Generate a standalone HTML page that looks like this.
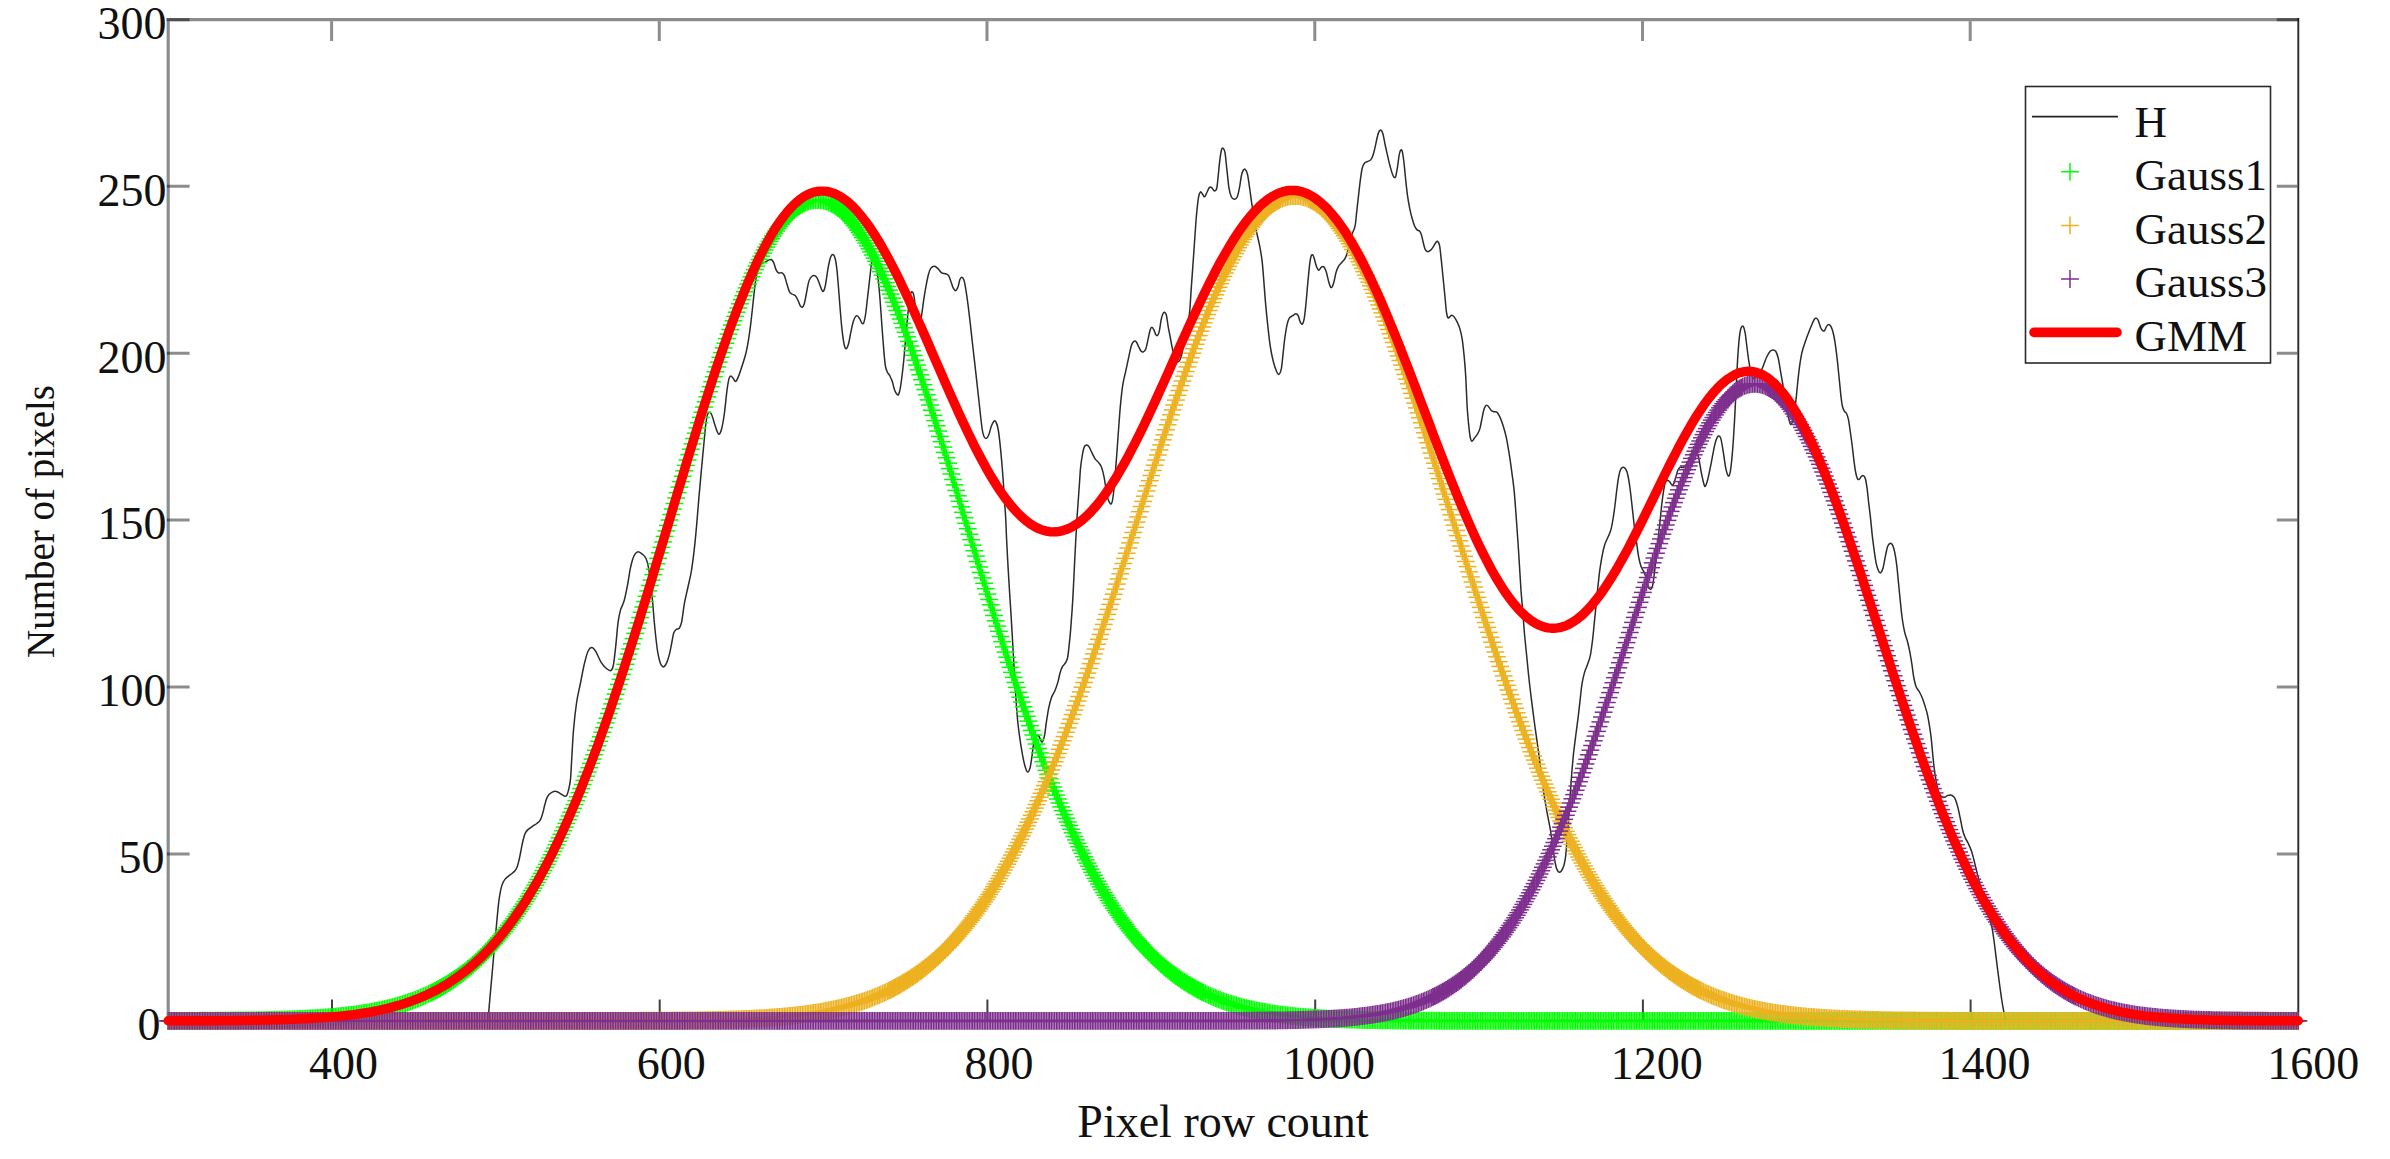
<!DOCTYPE html>
<html><head><meta charset="utf-8"><title>GMM fit</title>
<style>html,body{margin:0;padding:0;background:#fff}svg{display:block}text{font-family:"Liberation Serif",serif;fill:#111}</style>
</head><body>
<svg width="2390" height="1159" viewBox="0 0 2390 1159">
<defs>
<marker id="mga" markerUnits="userSpaceOnUse" markerWidth="17.8" markerHeight="17.8" refX="8.9" refY="8.9" viewBox="0 0 17.8 17.8" overflow="visible"><path d="M0 8.9 H17.8" stroke="#00ff00" stroke-width="1.5" fill="none"/><path d="M8.9 0 V17.8" stroke="#00ff00" stroke-width="1.95" fill="none"/></marker>
<marker id="mgb" markerUnits="userSpaceOnUse" markerWidth="17.8" markerHeight="17.8" refX="8.9" refY="8.9" viewBox="0 0 17.8 17.8" overflow="visible"><path d="M0 8.9 H17.8" stroke="#00ff00" stroke-width="1.5" fill="none"/><path d="M8.9 0 V17.8" stroke="#00ff00" stroke-width="1.45" fill="none"/></marker>
<marker id="moa" markerUnits="userSpaceOnUse" markerWidth="17.8" markerHeight="17.8" refX="8.9" refY="8.9" viewBox="0 0 17.8 17.8" overflow="visible"><path d="M0 8.9 H17.8" stroke="#edb120" stroke-width="1.5" fill="none"/><path d="M8.9 0 V17.8" stroke="#edb120" stroke-width="1.95" fill="none"/></marker>
<marker id="mob" markerUnits="userSpaceOnUse" markerWidth="17.8" markerHeight="17.8" refX="8.9" refY="8.9" viewBox="0 0 17.8 17.8" overflow="visible"><path d="M0 8.9 H17.8" stroke="#edb120" stroke-width="1.5" fill="none"/><path d="M8.9 0 V17.8" stroke="#edb120" stroke-width="1.45" fill="none"/></marker>
<marker id="mpa" markerUnits="userSpaceOnUse" markerWidth="17.8" markerHeight="17.8" refX="8.9" refY="8.9" viewBox="0 0 17.8 17.8" overflow="visible"><path d="M0 8.9 H17.8" stroke="#7e2f8e" stroke-width="1.5" fill="none"/><path d="M8.9 0 V17.8" stroke="#7e2f8e" stroke-width="1.95" fill="none"/></marker>
<marker id="mpb" markerUnits="userSpaceOnUse" markerWidth="17.8" markerHeight="17.8" refX="8.9" refY="8.9" viewBox="0 0 17.8 17.8" overflow="visible"><path d="M0 8.9 H17.8" stroke="#7e2f8e" stroke-width="1.5" fill="none"/><path d="M8.9 0 V17.8" stroke="#7e2f8e" stroke-width="1.45" fill="none"/></marker>
</defs>
<rect width="2390" height="1159" fill="#fff"/>
<g stroke="#000" stroke-opacity="0.45" stroke-width="3.2" fill="none">
<path d="M168.2 1020.9 V18.1"/>
<path d="M169.8 19.7 H2298.7"/>
<path d="M166.6 1020.9 H2298.3"/>
</g>
<path d="M2298.3 18.1 V1020.9" stroke="#2a2a2a" stroke-width="1.9" fill="none"/>
<path d="M331.6 21.3 v19.6M659.3 21.3 v19.6M987 21.3 v19.6M1314.8 21.3 v19.6M1642.5 21.3 v19.6M1970.2 21.3 v19.6M166.9 854 h22.7M2297.3 854 h-20.5M166.9 687 h22.7M2297.3 687 h-20.5M166.9 520.1 h22.7M2297.3 520.1 h-20.5M166.9 353.2 h22.7M2297.3 353.2 h-20.5M166.9 186.3 h22.7M2297.3 186.3 h-20.5M166.6 19.7 h23.0M2298.7 19.7 h-21.9" stroke="#000" stroke-opacity="0.45" stroke-width="3" fill="none"/>
<path d="M332 1020.9 v-21.5M659.7 1020.9 v-21.5M987.4 1020.9 v-21.5M1315.2 1020.9 v-21.5M1642.9 1020.9 v-21.5M1970.6 1020.9 v-21.5" stroke="#404040" stroke-width="2" fill="none"/>
<g font-size="46">
<text x="160.6" y="1040.2" text-anchor="end">0</text>
<text x="164.6" y="873.3" text-anchor="end">50</text>
<text x="166.4" y="706.3" text-anchor="end">100</text>
<text x="166.4" y="539.4" text-anchor="end">150</text>
<text x="166.4" y="372.5" text-anchor="end">200</text>
<text x="166.4" y="205.6" text-anchor="end">250</text>
<text x="166.4" y="38.7" text-anchor="end">300</text>
<text x="343.5" y="1079" text-anchor="middle">400</text>
<text x="671.2" y="1079" text-anchor="middle">600</text>
<text x="998.9" y="1079" text-anchor="middle">800</text>
<text x="1329" y="1079" text-anchor="middle">1000</text>
<text x="1656.7" y="1079" text-anchor="middle">1200</text>
<text x="1984.4" y="1079" text-anchor="middle">1400</text>
<text x="2313.3" y="1079" text-anchor="middle">1600</text>
<text x="1223" y="1137.3" text-anchor="middle">Pixel row count</text>
</g>
<text font-size="39" text-anchor="middle" transform="translate(54.4 521.5) rotate(-90)">Number of pixels</text>
<path d="M487.9 1020.9C488 1019.3 488.3 1017 488.8 1011.2C489.3 1005.4 490.2 994.5 491 986C491.8 977.5 492.7 967.2 493.3 960C493.9 952.8 494.3 948.7 494.8 943C495.3 937.3 495.9 931.7 496.4 926C496.9 920.3 497.5 913.8 498 908.9C498.5 904 498.9 900.4 499.5 896.5C500.1 892.6 500.9 888.5 501.8 885.6C502.7 882.8 503.5 881.2 504.9 879.4C506.3 877.6 508.7 876.1 510.4 874.7C512.1 873.3 513.8 872.2 515 870.8C516.2 869.4 516.8 867.9 517.4 866.2C518 864.5 518.4 862.9 518.9 860.7C519.4 858.5 520 855.6 520.5 853C521 850.4 521.5 847.7 522 845.2C522.5 842.7 523 840.3 523.6 838.2C524.2 836.1 524.6 834.3 525.4 832.8C526.2 831.3 527.1 830.4 528.2 829.4C529.3 828.4 530.7 827.6 532.1 826.6C533.5 825.6 535.5 824.5 536.8 823.5C538.1 822.5 539.1 821.9 539.9 820.7C540.7 819.5 541.1 818.1 541.7 816.5C542.3 814.9 542.8 813.1 543.3 811.1C543.8 809.1 544.2 807 544.8 804.8C545.4 802.6 546.2 799.6 546.9 797.9C547.6 796.1 548.3 795.3 549.2 794.3C550.1 793.3 551.3 792.6 552.3 792.1C553.3 791.6 554.4 791.2 555.4 791.3C556.4 791.3 557.5 791.9 558.5 792.4C559.5 792.9 560.6 793.8 561.6 794.4C562.6 795 563.9 796.1 564.7 796.3C565.6 796.5 566.1 796.3 566.7 795.5C567.3 794.7 567.7 793.1 568.1 791.6C568.5 790.1 569 788.5 569.4 786.2C569.8 783.9 570.2 782.5 570.6 778C571 773.5 571.2 767.6 571.7 759.4C572.2 751.2 572.8 738.5 573.6 729C574.4 719.5 575.5 710.1 576.6 702.5C577.7 694.9 579.1 689.8 580.4 683.5C581.7 677.2 582.9 669.9 584.2 664.5C585.5 659.1 586.7 654.1 588 651.2C589.3 648.4 590.5 647.4 591.8 647.4C593.1 647.4 594 648.7 595.6 651.2C597.2 653.7 599.4 659.6 601.3 662.6C603.2 665.6 605.4 667.7 607 669C608.6 670.3 609.9 671 610.9 670.5C611.9 670 612.5 669.7 613.3 665.7C614.1 661.7 614.9 653.6 615.7 646.4C616.5 639.1 617.3 628.2 618.1 622.2C618.9 616.2 619.5 613.7 620.5 610.1C621.5 606.5 623 604.9 624.2 600.5C625.4 596.1 626.8 588.8 627.8 583.6C628.8 578.4 629.4 573.1 630.2 569.1C631 565.1 631.8 561.9 632.6 559.4C633.4 556.9 634.1 555.4 635 554.1C635.9 552.8 637 551.7 638.2 551.7C639.4 551.7 641 553 642.3 554.1C643.6 555.2 644.9 556.1 645.9 558.2C646.9 560.3 647.5 562.5 648.3 566.7C649.1 570.9 650 577.6 650.7 583.6C651.4 589.6 652.1 596.5 652.7 602.9C653.3 609.3 653.7 615.8 654.3 622.2C654.9 628.6 655.7 636.3 656.3 641.5C656.9 646.7 657.3 650 658 653.6C658.7 657.2 659.5 661.1 660.4 663.3C661.3 665.5 662.3 666.9 663.3 666.9C664.3 666.9 665.3 665.5 666.4 663.3C667.5 661.1 668.7 657.2 669.6 653.6C670.5 650 671.3 644.9 672 641.5C672.7 638.1 673 635.1 673.7 633.1C674.4 631.1 675.2 630.3 676.1 629.5C677 628.7 678.3 629.5 679.2 628.3C680.1 627.1 680.7 626.4 681.6 622.2C682.5 618 683.4 608.9 684.5 602.9C685.6 596.9 687.1 591.2 688.2 586C689.3 580.8 690.3 577.5 691.3 571.5C692.3 565.5 693.3 557.4 694.2 549.8C695.1 542.1 695.8 534.5 696.6 525.6C697.4 516.7 698.2 505.9 699 496.6C699.8 487.3 700.6 478.9 701.4 470C702.2 461.1 703.2 451.1 703.9 443.5C704.6 435.9 705.2 429 705.8 424.2C706.4 419.4 706.9 416.5 707.5 414.5C708.1 412.5 708.9 412.2 709.6 412.2C710.3 412.2 710.8 412.5 711.6 414.5C712.5 416.5 713.8 421.4 714.7 424.2C715.6 427 716.4 429.7 717.1 431.4C717.9 433.1 718.4 434.7 719.2 434.2C720 433.7 720.9 431.9 721.7 428.5C722.6 425.1 723.4 420.5 724.3 414C725.2 407.5 726.3 395.3 727.1 389.4C727.9 383.5 728.4 380.8 729 378.6C729.6 376.4 730.2 376.1 730.9 376.1C731.6 376.1 732.5 377.7 733.3 378.6C734.1 379.5 734.8 381.8 735.7 381.4C736.6 381 737.5 378.8 738.6 376.1C739.7 373.4 741.1 369.1 742.3 365.3C743.5 361.5 744.9 357.2 745.9 353.2C746.9 349.2 747.5 345.9 748.3 341.1C749.1 336.3 749.9 330.6 750.7 324.2C751.5 317.8 752.3 309.8 753.1 302.5C753.9 295.2 754.8 286.1 755.6 280.7C756.4 275.3 757 272.7 758 269.9C759 267.1 760.4 265.1 761.6 263.8C762.8 262.5 764.1 262.7 765.2 262.1C766.3 261.5 767.4 260.6 768.4 260.2C769.4 259.8 770.4 259.1 771.3 259.5C772.2 259.9 772.9 260.9 773.7 262.6C774.5 264.3 775.3 268.2 776.1 269.9C776.9 271.6 777.5 272.5 778.5 273C779.5 273.5 781.1 272.3 782.1 272.8C783.1 273.3 783.7 274 784.5 275.9C785.3 277.8 786.2 281.7 787 284.3C787.8 286.9 788.6 290 789.4 291.6C790.2 293.2 790.8 293.3 791.8 294C792.8 294.7 794.4 294.7 795.4 295.7C796.4 296.7 797 298.4 797.8 300C798.6 301.6 799.5 304.4 800.2 305.6C800.9 306.8 801.5 307.6 802.2 307.3C802.9 307 803.6 305.9 804.3 303.7C805 301.5 805.6 297.6 806.3 294C807 290.4 807.9 284.7 808.7 281.9C809.5 279.1 810.2 278.2 811.1 277.1C812 276 813 275.3 814 275.4C815 275.5 816.2 276.3 817.1 277.8C818 279.3 818.8 282.2 819.6 284.3C820.4 286.4 821.3 289.3 822 290.4C822.7 291.5 823.1 291.9 823.7 290.9C824.3 289.9 824.9 288 825.6 284.3C826.3 280.6 827.2 273 828 268.6C828.8 264.2 829.6 260.1 830.4 257.8C831.2 255.5 832.1 254.4 832.9 254.6C833.7 254.8 834.6 256.1 835.3 259C836 261.9 836.6 266.7 837.2 272.3C837.8 277.9 838.3 285.4 838.9 292.8C839.5 300.2 840.2 310.1 840.8 317C841.4 323.9 841.9 329.3 842.5 333.9C843.1 338.5 843.6 342.2 844.2 344.7C844.8 347.2 845.4 349 846.1 348.8C846.8 348.6 847.8 346.4 848.6 343.5C849.4 340.6 850.2 335.1 851 331.4C851.8 327.7 852.5 323.9 853.4 321.3C854.3 318.7 855.5 316.2 856.5 315.7C857.5 315.2 858.5 317 859.4 318.2C860.3 319.4 861.1 322.3 861.8 323C862.5 323.7 863.1 324.2 863.8 322.6C864.4 321 865.1 317.6 865.7 313.5C866.3 309.4 866.9 303.2 867.5 298C868.1 292.8 868.8 287.1 869.3 282.3C869.8 277.5 870.4 272.5 870.8 269C871.2 265.5 871.3 263.4 871.9 261.5C872.5 259.6 873.5 257.1 874.2 257.5C875 257.9 875.8 261.1 876.4 264C877 266.9 877.2 271.8 877.6 275C878 278.2 878.3 279.8 878.6 283C878.9 286.2 879.2 289.8 879.6 294.3C880 298.8 880.4 304.6 880.8 310C881.2 315.4 881.6 321.6 882 327C882.4 332.4 882.8 337.7 883.2 342.7C883.6 347.7 884 353.1 884.4 357.1C884.8 361.2 885.1 364.5 885.6 367C886.1 369.5 886.7 370.7 887.4 372.2C888.1 373.7 889.1 374.4 889.9 376C890.7 377.6 891.5 379.3 892.3 381.5C893 383.7 893.6 387.3 894.4 389.4C895.2 391.5 896.2 393.5 896.9 394.3C897.6 395.1 898 395.5 898.6 394.3C899.2 393.1 899.9 390.7 900.5 387C901.1 383.3 902 376.4 902.5 372C903 367.6 903.3 365.1 903.7 360.8C904.1 356.5 904.6 351.1 905 346.3C905.4 341.5 905.8 336.4 906.2 331.8C906.6 327.2 907 322.5 907.4 318.5C907.8 314.5 908.2 311 908.6 307.6C909 304.2 909.4 300.5 909.8 298C910.2 295.5 910.6 293.5 911 292.5C911.4 291.5 911.8 291.7 912.2 291.9C912.6 292.1 913 292.3 913.4 293.7C913.8 295.1 914.2 297.3 914.6 300.4C915 303.4 915.4 308.5 916 312C916.6 315.5 917.5 320 918.2 321.5C918.9 323 919.7 322.1 920.3 321C920.9 319.9 921 318.6 921.6 315.2C922.2 311.8 922.9 305.5 923.6 300.7C924.3 295.9 925.2 290.6 926 286.2C926.8 281.8 927.7 277.2 928.5 274.2C929.3 271.2 929.9 269.4 930.9 268.1C931.9 266.8 933.3 266.1 934.5 266.2C935.7 266.3 936.9 267.7 938.1 268.8C939.3 269.9 940.5 272.1 941.7 272.9C942.9 273.7 944.3 273.3 945.4 273.7C946.5 274.1 947.6 274.1 948.5 275.4C949.4 276.7 950.1 279.3 950.9 281.4C951.7 283.5 952.5 286.7 953.3 288.2C954.1 289.7 954.9 290.9 955.7 290.6C956.5 290.3 957.5 288.1 958.2 286.2C958.9 284.3 959.3 281 959.9 279.5C960.5 278 961.1 277.2 961.8 277.3C962.5 277.4 963.3 278.1 964 280.2C964.7 282.3 965.2 285.5 965.9 289.9C966.6 294.3 967.5 300.6 968.3 306.8C969.1 313 969.9 320.3 970.7 327.3C971.5 334.3 972.3 341.8 973.1 349C973.9 356.2 974.8 363.6 975.6 370.8C976.4 378.1 977.2 385.2 978 392.5C978.8 399.8 979.7 408.1 980.4 414.3C981.1 420.6 981.7 426.3 982.3 430C982.9 433.7 983.3 435.1 984 436.5C984.7 437.9 985.6 438.7 986.4 438.4C987.2 438.1 988 436.8 988.8 434.8C989.6 432.8 990.5 428.5 991.3 426.3C992.1 424.1 993 422.3 993.7 421.5C994.4 420.7 994.9 420.5 995.6 421.5C996.3 422.5 997.1 424.3 997.8 427.5C998.5 430.7 999.1 435.4 999.7 440.8C1000.3 446.2 1001 453.2 1001.6 460.1C1002.2 467 1002.8 475 1003.3 481.9C1003.8 488.8 1004.1 495.2 1004.5 501.2C1004.9 507.2 1005.4 512.1 1005.7 518.1C1006 524.1 1006.1 529.2 1006.5 537.5C1006.9 545.8 1007.5 557.2 1008.1 567.6C1008.7 578 1009.4 589.3 1010.1 600.1C1010.8 610.9 1011.5 622.2 1012.1 632.6C1012.7 643 1013.2 652.7 1013.8 662.7C1014.4 672.7 1015 683.1 1015.6 692.7C1016.2 702.3 1016.9 712.3 1017.6 720.2C1018.4 728.1 1019.3 734.4 1020.1 740.2C1020.9 746.1 1021.8 750.9 1022.6 755.3C1023.4 759.7 1024.3 763.7 1025.1 766.5C1025.9 769.3 1026.8 771.8 1027.6 772C1028.4 772.2 1029.3 770.6 1030.1 767.8C1030.8 765 1031.5 759.5 1032.1 755.3C1032.7 751.1 1033.1 745.8 1033.8 742.7C1034.5 739.6 1035.5 737.7 1036.3 736.5C1037.1 735.3 1037.5 734.5 1038.5 735.5C1039.5 736.5 1041.1 742.2 1042.1 742.2C1043.1 742.2 1043.9 738.5 1044.6 735.2C1045.3 732 1045.6 727.3 1046.3 722.7C1047 718.1 1047.9 711.9 1048.8 707.7C1049.7 703.5 1050.4 700.6 1051.4 697.7C1052.5 694.8 1054 692.9 1055.1 690.2C1056.2 687.5 1057.3 684.3 1058.1 681.4C1058.9 678.5 1059.3 675.2 1060.1 672.7C1060.8 670.2 1061.7 668.1 1062.6 666.4C1063.5 664.7 1064.8 664.2 1065.6 662.7C1066.4 661.2 1067 660.2 1067.6 657.7C1068.1 655.2 1068.4 652.2 1068.9 647.6C1069.4 643 1070.1 636.4 1070.6 630.1C1071.1 623.9 1071.6 617.2 1072.1 610.1C1072.6 603 1073 595.5 1073.4 587.6C1073.8 579.7 1074.2 571 1074.6 562.6C1075 554.2 1075.5 544.9 1075.9 537.5C1076.3 530.1 1076.6 524.1 1077 518.1C1077.4 512.1 1077.8 506.8 1078.2 501.2C1078.6 495.6 1079 489.9 1079.4 484.3C1079.8 478.7 1080.1 472.2 1080.6 467.4C1081.1 462.6 1081.7 458.7 1082.3 455.3C1082.9 451.9 1083.6 448.6 1084.3 446.9C1085 445.2 1085.9 444.9 1086.7 444.9C1087.5 444.9 1088.2 445.6 1089.1 446.9C1090 448.2 1091 450.9 1092 452.9C1093 454.9 1094 457.3 1095.1 458.9C1096.2 460.5 1097.6 461.2 1098.7 462.6C1099.8 464 1100.7 465 1101.6 467.4C1102.5 469.8 1103.4 473.5 1104.1 477.1C1104.8 480.7 1105.4 485.5 1106 489.1C1106.6 492.7 1107.2 496.4 1107.9 498.8C1108.6 501.2 1109.6 503 1110.3 503.6C1111 504.2 1111.4 504.4 1112 502.4C1112.6 500.4 1113.2 496.1 1113.7 491.5C1114.2 486.9 1114.7 481 1115.2 474.6C1115.7 468.2 1116.3 460.5 1116.9 452.9C1117.5 445.2 1118 436.8 1118.6 428.7C1119.2 420.6 1119.8 412 1120.5 404.6C1121.2 397.2 1122 389.7 1122.9 384.1C1123.8 378.5 1124.8 375.4 1125.8 370.8C1126.8 366.2 1128 360.5 1128.9 356.3C1129.8 352.1 1130.6 347.9 1131.4 345.4C1132.2 342.9 1133 341.9 1133.8 341.3C1134.6 340.7 1135.4 340.9 1136.2 341.8C1137 342.7 1137.8 345.1 1138.6 346.6C1139.4 348.1 1140.2 350.1 1141 351C1141.8 351.9 1142.6 352.2 1143.4 351.9C1144.2 351.6 1145 351.3 1145.8 349C1146.6 346.7 1147.6 341.4 1148.3 338.2C1149 335 1149.6 331.5 1150.2 329.7C1150.8 327.9 1151.3 327.3 1151.9 327.3C1152.5 327.3 1153.2 328.6 1153.8 329.7C1154.4 330.8 1154.9 333.1 1155.5 334.1C1156.1 335.1 1156.6 336 1157.2 335.7C1157.8 335.4 1158.4 334.7 1159.1 332.1C1159.8 329.5 1160.5 323 1161.1 320C1161.7 317 1162.2 315.3 1162.8 314C1163.4 312.7 1163.9 312.1 1164.5 312.3C1165.1 312.5 1165.8 312.7 1166.4 315.2C1167 317.7 1167.7 323.7 1168.3 327.3C1168.9 330.9 1169.5 333.3 1170.2 337C1170.9 340.7 1171.8 346 1172.6 349.5C1173.4 353 1174.1 355.8 1175 357.9C1175.9 360 1176.8 362.1 1177.8 362C1178.8 361.9 1180 360.2 1181 357C1182 353.8 1183 348.2 1184 343C1185 337.8 1186.1 331 1187 326C1187.9 321 1188.8 319.3 1189.5 313.2C1190.2 307.1 1190.6 297.6 1191.2 289.1C1191.8 280.7 1192.4 271.8 1193.1 262.5C1193.8 253.2 1194.5 241.9 1195.1 233.5C1195.7 225.1 1196.2 217.8 1196.8 211.8C1197.4 205.8 1197.9 200.6 1198.5 197.3C1199.1 194 1199.8 192.6 1200.4 192C1201 191.4 1201.6 192.9 1202.3 193.7C1203 194.5 1203.7 197 1204.5 196.8C1205.3 196.6 1206.1 194 1206.9 192.5C1207.7 191 1208.5 188.4 1209.3 187.6C1210.1 186.8 1210.9 187.1 1211.7 187.6C1212.5 188.1 1213.4 190.6 1214.2 190.8C1215 191 1216 190.9 1216.6 188.8C1217.2 186.7 1217.5 182.6 1218 178C1218.5 173.4 1219.1 165.7 1219.7 161.1C1220.3 156.5 1220.8 152.3 1221.4 150.2C1222 148.1 1222.5 147.9 1223.1 148.3C1223.7 148.7 1224.3 148.9 1225 152.6C1225.7 156.3 1226.3 164.9 1227 170.7C1227.7 176.5 1228.2 183.2 1228.9 187.6C1229.6 191.9 1230.4 194.9 1231.3 196.8C1232.2 198.7 1233.2 199.1 1234.2 199.2C1235.2 199.3 1236.2 199.2 1237.1 197.3C1238 195.4 1238.8 191.2 1239.5 187.6C1240.2 184 1240.8 178.5 1241.4 175.6C1242.1 172.7 1242.8 171 1243.4 170C1244.1 169 1244.6 168.8 1245.3 169.5C1246 170.2 1246.7 170.9 1247.5 174.3C1248.3 177.7 1249.1 184.6 1249.9 190C1250.7 195.4 1251.3 200.6 1252.3 207C1253.3 213.4 1254.7 222.3 1255.9 228.7C1257.1 235.1 1258.6 240.4 1259.6 245.6C1260.6 250.8 1261.3 254.5 1262 260.1C1262.7 265.7 1263.1 272.1 1263.7 279.4C1264.3 286.6 1264.9 295.6 1265.6 303.6C1266.3 311.7 1267.2 320.4 1268 327.7C1268.8 334.9 1269.5 341.5 1270.4 347.1C1271.3 352.7 1272.3 357.5 1273.3 361.5C1274.3 365.5 1275.6 369.1 1276.5 371.2C1277.4 373.3 1278.1 374.7 1278.9 374.3C1279.7 373.9 1280.6 372.1 1281.3 368.8C1282 365.5 1282.4 359.5 1283 354.3C1283.6 349.1 1284.2 342.2 1284.9 337.4C1285.6 332.6 1286.2 328.5 1286.9 325.3C1287.6 322.1 1288.3 319.7 1289.3 318.1C1290.3 316.5 1291.6 316.4 1292.7 315.7C1293.8 315 1294.9 313.7 1295.8 313.7C1296.7 313.7 1297.5 314.4 1298.2 315.7C1298.9 317 1299.4 320.3 1300.1 321.7C1300.8 323.1 1301.6 324.7 1302.3 324.1C1303 323.5 1303.6 321.9 1304.3 318.1C1305 314.3 1305.6 307.2 1306.2 301.2C1306.8 295.1 1307.3 287.9 1307.9 281.8C1308.5 275.8 1309.1 269.1 1309.6 264.9C1310.1 260.7 1310.5 258.2 1311 256.5C1311.5 254.8 1312.1 254.4 1312.7 254.8C1313.3 255.2 1313.8 257 1314.4 258.9C1315 260.8 1315.6 264.2 1316.3 266.1C1317 268 1317.9 270 1318.7 270.2C1319.5 270.4 1320.4 267.9 1321.2 267.3C1322 266.7 1322.8 266 1323.6 266.6C1324.4 267.2 1325.2 268.7 1326 271C1326.8 273.3 1327.7 278 1328.4 280.6C1329.1 283.2 1329.7 285.6 1330.3 286.7C1330.9 287.8 1331.4 287.9 1332 287.1C1332.6 286.3 1333.3 284.3 1334 281.8C1334.7 279.3 1335.3 274.8 1336.1 272.2C1336.9 269.6 1337.7 267.7 1338.6 266.1C1339.5 264.5 1340.7 263.7 1341.7 262.5C1342.7 261.3 1343.9 260.5 1344.8 258.9C1345.7 257.3 1346.1 256.7 1347.2 252.9C1348.3 249.1 1350.1 240.3 1351.4 235.9C1352.7 231.5 1354.1 230.3 1355 226.3C1355.9 222.3 1356.1 217 1356.7 211.8C1357.3 206.6 1358 200.1 1358.6 194.9C1359.2 189.7 1359.7 184.8 1360.3 180.4C1360.9 176 1361.5 171.2 1362.2 168.3C1362.9 165.4 1363.7 164.1 1364.6 163C1365.5 161.9 1366.5 162 1367.5 161.5C1368.5 161 1369.8 161 1370.7 159.9C1371.6 158.8 1372.3 157.4 1373.1 155C1373.9 152.6 1374.8 148.6 1375.5 145.4C1376.2 142.2 1376.9 138.1 1377.6 135.7C1378.2 133.3 1378.8 131.9 1379.4 131C1380 130.1 1380.6 129.6 1381.2 130.2C1381.8 130.8 1382.4 131.8 1383.1 134.5C1383.8 137.2 1384.5 142.1 1385.5 146.5C1386.5 150.9 1387.8 156.9 1388.8 161.1C1389.8 165.3 1390.9 169.3 1391.7 171.9C1392.5 174.5 1393.1 176 1393.7 176.8C1394.3 177.6 1395 178.2 1395.6 176.8C1396.2 175.4 1396.7 171.7 1397.3 168.3C1397.9 164.9 1398.5 159.1 1399 156.2C1399.5 153.3 1399.9 151.6 1400.4 150.7C1400.9 149.8 1401.5 149 1402.1 150.7C1402.7 152.4 1403.2 156.5 1403.8 161.1C1404.4 165.7 1404.9 172.4 1405.5 178C1406.1 183.6 1406.7 189.7 1407.4 194.9C1408.1 200.1 1409.1 205.4 1409.9 209.4C1410.7 213.4 1411.5 216.2 1412.3 219C1413.1 221.8 1413.9 224.5 1414.7 226.3C1415.5 228.1 1416.3 229.1 1417.1 229.9C1417.9 230.7 1418.8 230.3 1419.5 231.1C1420.2 231.9 1420.8 232.9 1421.4 234.7C1422 236.5 1422.5 239.6 1423.1 242C1423.7 244.4 1424.4 247.6 1425.1 249.2C1425.8 250.8 1426.6 251.4 1427.5 251.6C1428.4 251.8 1429.4 251.2 1430.4 250.4C1431.4 249.6 1432.4 248.1 1433.3 246.8C1434.2 245.5 1435 243.6 1435.7 242.7C1436.4 241.8 1436.9 240.8 1437.6 241.3C1438.2 241.8 1439 242.5 1439.6 245.6C1440.2 248.7 1440.7 254.9 1441.3 260.1C1441.9 265.3 1442.4 271 1443 277C1443.6 283 1444.4 290.7 1444.9 296.3C1445.5 301.9 1445.8 307.2 1446.3 310.8C1446.8 314.4 1447.2 316.6 1447.8 317.6C1448.4 318.6 1449.1 317.3 1449.7 316.9C1450.3 316.5 1450.9 315.2 1451.6 315.2C1452.3 315.2 1453.2 315.8 1454.1 316.9C1455 318 1456 319.7 1457 321.7C1458 323.7 1459 325.9 1459.9 328.9C1460.8 331.9 1461.6 335.2 1462.3 339.8C1463 344.4 1463.6 350.7 1464.2 356.7C1464.8 362.7 1465.3 369.6 1465.7 376C1466.1 382.4 1466.3 389.5 1466.6 395C1466.9 400.5 1466.9 403.8 1467.3 409C1467.7 414.2 1468.3 421.5 1468.8 426.2C1469.3 430.9 1469.7 434.6 1470.2 437.1C1470.7 439.6 1471.2 441 1471.9 441.2C1472.6 441.4 1473.4 439.5 1474.3 438.3C1475.2 437.1 1476.6 435.6 1477.5 434C1478.4 432.4 1479.1 431.3 1479.9 428.6C1480.7 425.9 1481.4 421 1482.1 417.8C1482.8 414.6 1483.3 411.4 1484 409.3C1484.7 407.2 1485.6 405.6 1486.4 405.2C1487.2 404.8 1488 406 1488.8 406.9C1489.6 407.8 1490.5 409.7 1491.3 410.5C1492.1 411.3 1492.8 411.4 1493.7 411.7C1494.6 412 1495.8 411.4 1496.8 412.2C1497.8 413 1498.6 414.3 1499.7 416.6C1500.8 418.9 1502.2 422.6 1503.3 426.2C1504.4 429.8 1505.5 433.5 1506.5 438.3C1507.5 443.1 1508.5 449.6 1509.4 455.2C1510.3 460.8 1511 466.1 1511.8 472.1C1512.6 478.1 1513.5 484.1 1514.2 491.4C1514.9 498.6 1515.5 507.5 1516.1 515.6C1516.7 523.7 1517.2 531.3 1517.8 539.8C1518.4 548.2 1519 557.8 1519.5 566.3C1520 574.8 1520.5 583.6 1521 590.5C1521.5 597.4 1521.9 600.6 1522.4 607.4C1523 614.2 1523.7 624.1 1524.3 631.5C1524.9 638.9 1525.6 644.9 1526.3 652C1527 659.1 1527.7 666.5 1528.5 674.2C1529.3 681.9 1530.3 690.2 1531.3 698.3C1532.3 706.3 1533.3 714.5 1534.4 722.5C1535.5 730.5 1536.7 738.6 1537.8 746.6C1538.9 754.6 1539.9 762.8 1540.9 770.8C1542 778.8 1543 787.6 1544.1 794.9C1545.2 802.1 1546.3 808.2 1547.4 814.3C1548.5 820.3 1549.7 825.6 1550.6 831.2C1551.5 836.8 1552.3 843.3 1553 848.1C1553.7 852.9 1554.1 856.7 1554.7 860.1C1555.3 863.5 1555.8 866.6 1556.6 868.6C1557.4 870.6 1558.5 872.2 1559.5 872.2C1560.5 872.2 1561.8 870.6 1562.7 868.6C1563.6 866.6 1564.4 864.3 1565.1 860.1C1565.8 855.9 1566.3 849.2 1566.8 843.2C1567.3 837.2 1567.7 831.1 1568.2 823.9C1568.7 816.7 1569.3 807.8 1569.9 799.8C1570.5 791.8 1571 783.2 1571.6 775.6C1572.2 768 1572.8 760.8 1573.5 753.9C1574.2 747 1575.1 741 1575.9 734.5C1576.7 728 1577.7 721.2 1578.4 715.2C1579.1 709.2 1579.7 703.5 1580.3 698.3C1580.9 693.1 1581.3 688 1582 683.8C1582.7 679.6 1583.5 676.1 1584.4 672.9C1585.3 669.7 1586.5 667.4 1587.5 664.5C1588.5 661.6 1589.4 660 1590.3 655.7C1591.2 651.4 1592 644.4 1592.7 638.8C1593.4 633.2 1593.8 627.9 1594.4 621.9C1595 615.9 1595.7 609 1596.3 602.6C1596.9 596.2 1597.7 588.9 1598.3 583.2C1598.9 577.6 1599.3 573.5 1600 568.7C1600.7 563.9 1601.6 558.3 1602.4 554.3C1603.2 550.3 1603.9 547.4 1604.8 544.6C1605.7 541.8 1606.9 539.7 1607.9 537.3C1608.9 534.9 1609.9 533.3 1610.8 530.1C1611.7 526.9 1612.5 522.4 1613.2 518C1613.9 513.6 1614.6 508.3 1615.2 503.5C1615.8 498.7 1616.3 493.4 1616.9 489C1617.5 484.6 1618 480.2 1618.6 477C1619.2 473.8 1619.8 471.3 1620.5 469.7C1621.2 468.1 1622.1 467.5 1622.9 467.3C1623.7 467.1 1624.5 467.3 1625.3 468.5C1626.1 469.7 1626.9 471.1 1627.7 474.5C1628.5 477.9 1629.3 482.9 1630.1 489C1630.9 495.1 1631.9 504.4 1632.6 510.8C1633.3 517.2 1633.9 522.9 1634.5 527.7C1635.1 532.5 1635.5 535 1636.2 539.8C1636.9 544.6 1637.8 552.3 1638.6 556.7C1639.4 561.1 1640.1 563.7 1641 566.3C1641.9 568.9 1643.3 570.2 1644.2 572.4C1645.1 574.6 1645.9 577.2 1646.6 579.6C1647.3 582 1647.6 585.3 1648.3 586.9C1649 588.5 1650 589.5 1650.7 589.3C1651.4 589.1 1652 588.3 1652.6 585.7C1653.2 583.1 1653.7 578.4 1654.3 573.6C1654.9 568.8 1655.7 562.3 1656.3 556.7C1656.9 551.1 1657.4 545.4 1658 539.8C1658.6 534.2 1659.3 528.5 1659.9 522.9C1660.5 517.2 1661 511.1 1661.6 505.9C1662.2 500.6 1662.9 495.2 1663.5 491.4C1664.1 487.6 1664.5 484.9 1665.2 483C1665.9 481.1 1666.7 480.5 1667.4 480.3C1668.1 480.1 1668.8 480.9 1669.5 481.6C1670.2 482.4 1671.2 484.5 1671.9 484.8C1672.6 485.1 1673.2 484.8 1673.8 483.6C1674.4 482.4 1675 479.7 1675.7 477.5C1676.4 475.3 1677.1 472 1677.9 470.3C1678.7 468.6 1679.5 467.6 1680.3 467.1C1681.1 466.6 1682 467.9 1683 467.5C1684 467.1 1685 466.2 1686 465C1687 463.8 1688 461.6 1689 460C1690 458.4 1691.1 456.7 1692 455.5C1692.9 454.3 1693.8 453.5 1694.5 453C1695.2 452.5 1695.9 452.2 1696.5 452.5C1697.1 452.8 1697.4 452.9 1697.9 454.5C1698.4 456.1 1698.9 458.8 1699.5 462C1700.1 465.2 1700.9 470.6 1701.6 474C1702.3 477.4 1702.9 480.4 1703.5 482.5C1704.1 484.6 1704.5 486.8 1705.2 486.4C1705.9 486 1706.7 483.3 1707.6 480C1708.5 476.7 1709.5 471.7 1710.5 466.7C1711.5 461.7 1712.8 454.2 1713.7 449.8C1714.6 445.4 1715.3 442.4 1716.1 440.1C1716.9 437.8 1717.7 436.2 1718.5 436C1719.3 435.8 1720.1 436.2 1720.9 438.9C1721.7 441.6 1722.5 447.4 1723.3 452.2C1724.1 457 1724.9 464 1725.7 467.9C1726.5 471.8 1727.5 475 1728.2 475.8C1728.9 476.6 1729.5 475.4 1730.1 472.7C1730.7 470 1731.2 465.2 1731.8 459.4C1732.4 453.6 1733 445.3 1733.5 437.7C1734 430.1 1734.5 421.6 1734.9 413.5C1735.3 405.4 1735.7 397.4 1736.1 389.4C1736.5 381.3 1736.9 372.4 1737.3 365.2C1737.7 357.9 1738.1 351.3 1738.6 345.9C1739 340.5 1739.5 335.7 1740 332.6C1740.5 329.5 1740.8 328.1 1741.4 327.1C1742 326.1 1742.8 325.7 1743.4 326.6C1744 327.5 1744.5 329.4 1745.1 332.6C1745.7 335.8 1746.2 341.3 1746.8 345.9C1747.4 350.5 1748 355.9 1748.7 360.4C1749.4 364.9 1750.2 370 1751 373C1751.8 376 1752.5 378 1753.5 378.5C1754.5 379 1755.6 377.6 1757 376C1758.4 374.4 1760.8 371 1762 368.8C1763.2 366.6 1763.6 364.8 1764.4 362.8C1765.2 360.8 1765.9 358.7 1766.8 356.8C1767.7 354.9 1769 352.5 1770 351.4C1771 350.3 1772 350 1772.9 350C1773.9 350 1774.8 349.9 1775.7 351.2C1776.6 352.5 1777.5 355.1 1778.2 358C1778.9 360.9 1779.5 365.2 1780.1 368.8C1780.7 372.4 1781.2 375.1 1782 379.7C1782.8 384.3 1784 391.4 1784.9 396.6C1785.8 401.8 1786.6 407.1 1787.3 411.1C1788 415.1 1788.7 418.6 1789.3 420.8C1789.9 423 1790.3 424.8 1791 424.4C1791.7 424 1792.6 422.2 1793.4 418.4C1794.2 414.6 1795.1 407 1795.8 401.4C1796.5 395.8 1796.9 390.1 1797.5 384.5C1798.1 378.9 1798.7 372.8 1799.4 367.6C1800.1 362.4 1800.8 357.5 1801.8 353.1C1802.8 348.7 1804.3 344.7 1805.5 341.1C1806.7 337.5 1808 334.2 1809.1 331.4C1810.2 328.6 1811.1 326.2 1812 324.2C1812.9 322.2 1813.7 320.3 1814.4 319.3C1815.1 318.3 1815.7 317.9 1816.3 318.1C1816.9 318.3 1817.6 318.9 1818.3 320.5C1819 322.1 1819.9 326.1 1820.7 327.8C1821.5 329.5 1822.2 330.5 1822.9 330.9C1823.6 331.3 1824.2 331 1824.8 330.2C1825.4 329.4 1826 327 1826.7 326.1C1827.4 325.2 1828.1 324.4 1828.9 324.6C1829.7 324.8 1830.5 325.4 1831.3 327.1C1832.1 328.8 1833 331.7 1833.7 335C1834.4 338.3 1835.1 342.5 1835.7 347.1C1836.3 351.7 1837 357.4 1837.6 362.8C1838.2 368.2 1838.7 374.1 1839.3 379.7C1839.9 385.3 1840.5 392.2 1841 396.6C1841.5 401 1841.9 403.9 1842.4 406.3C1843 408.7 1843.6 409.9 1844.3 411.1C1845 412.3 1845.8 412.1 1846.5 413.5C1847.2 414.9 1847.9 416.8 1848.5 419.6C1849.1 422.4 1849.5 426.2 1850.1 430.4C1850.7 434.6 1851.5 440.1 1852.1 444.9C1852.7 449.7 1853.2 455 1853.8 459.4C1854.4 463.8 1854.9 468.3 1855.5 471.5C1856.1 474.7 1856.8 477.4 1857.4 478.7C1858 480 1858.6 479.6 1859.3 479.2C1860 478.8 1860.8 476.9 1861.5 476.3C1862.2 475.7 1862.8 475.2 1863.4 475.6C1864.1 476 1864.8 476.6 1865.4 478.7C1866 480.8 1866.5 484.4 1867.1 488.4C1867.6 492.4 1868.1 497.7 1868.7 502.9C1869.3 508.1 1870.1 514.2 1870.7 519.8C1871.3 525.4 1871.8 531.5 1872.4 536.7C1873 541.9 1873.7 546.8 1874.3 551.2C1874.9 555.6 1875.5 560.1 1876.2 563.3C1876.9 566.5 1877.7 568.9 1878.4 570.5C1879.1 572.1 1879.7 573.2 1880.5 572.8C1881.3 572.4 1882.2 571.1 1883 568.3C1883.8 565.5 1884.6 559.8 1885.4 556.2C1886.2 552.6 1886.8 548.7 1887.6 546.6C1888.4 544.5 1889.2 543.6 1890 543.4C1890.8 543.2 1891.9 543.9 1892.7 545.4C1893.5 546.9 1894.1 549.2 1894.8 552.6C1895.5 556 1896.2 560.9 1896.8 565.9C1897.4 570.9 1897.9 576.8 1898.5 582.8C1899.1 588.8 1899.8 596.1 1900.4 602.1C1901 608.1 1901.6 614 1902.3 619C1903 624 1903.8 628.5 1904.7 632.3C1905.6 636.1 1906.7 638.6 1907.6 642C1908.5 645.4 1909.3 649.1 1910 652.9C1910.7 656.7 1911.4 660.9 1912 664.9C1912.6 668.9 1913 673.4 1913.7 677C1914.4 680.6 1915.2 684.3 1916.1 686.7C1917 689.1 1918.2 689.7 1919.2 691.5C1920.2 693.3 1921.1 695.1 1922.1 697.5C1923.1 699.9 1924.1 703.2 1925 706C1925.9 708.8 1926.7 711.2 1927.4 714.4C1928.1 717.6 1928.8 721.5 1929.4 725.3C1930 729.1 1930.6 733 1931.1 737.4C1931.6 741.8 1932.1 747.5 1932.5 751.9C1932.9 756.3 1933.3 760.4 1933.7 764C1934.1 767.6 1934.4 769.9 1934.9 773.6C1935.5 777.3 1936.2 782.4 1937 786C1937.8 789.6 1938.8 793.1 1940 795C1941.2 796.9 1942.7 797.5 1943.9 797.6C1945.2 797.7 1946.4 796 1947.5 795.6C1948.6 795.2 1949.6 794.9 1950.6 795C1951.6 795.1 1952.7 795.7 1953.5 796.5C1954.3 797.3 1954.9 798.2 1955.6 800C1956.3 801.8 1957 804.1 1957.8 807.1C1958.6 810.1 1959.4 814.2 1960.2 818C1961 821.8 1961.8 826.8 1962.6 830C1963.4 833.2 1964.1 835.1 1965 837.3C1965.9 839.5 1967.2 841.1 1968.2 843.3C1969.2 845.5 1970.4 848 1971.3 850.6C1972.2 853.2 1972.9 856 1973.7 859C1974.5 862 1975.4 865.9 1976.1 868.7C1976.8 871.5 1977 872.7 1977.8 875.9C1978.6 879.1 1979.8 883.6 1981 888C1982.2 892.4 1983.5 896.8 1985 902C1986.5 907.2 1988.7 914.9 1989.9 919.4C1991.1 923.9 1991.5 924.7 1992.3 929.1C1993.1 933.5 1993.9 940 1994.7 946C1995.5 952 1996.3 958.9 1997.1 965.3C1997.9 971.7 1998.8 978.6 1999.6 984.6C2000.4 990.6 2001.3 997.1 2002 1001.5C2002.7 1005.9 2003.2 1008 2003.7 1011.2C2004.2 1014.4 2005 1019.3 2005.3 1020.9" stroke="#2b2b2b" stroke-width="1.5" fill="none" stroke-linejoin="round"/>
<g fill="none" stroke="none">
<polyline points="168.1,1020.8 169.8,1020.8 171.4,1020.8 173.1,1020.8 174.7,1020.8 176.3,1020.8 178,1020.8 179.6,1020.8 181.2,1020.8 182.9,1020.8 184.5,1020.8 186.2,1020.8 187.8,1020.8 189.4,1020.8 191.1,1020.8 192.7,1020.8 194.4,1020.8 196,1020.8 197.6,1020.8 199.3,1020.8 200.9,1020.7 202.6,1020.7 204.2,1020.7 205.8,1020.7 207.5,1020.7 209.1,1020.7 210.7,1020.7 212.4,1020.7 214,1020.7 215.7,1020.7 217.3,1020.7 218.9,1020.7 220.6,1020.6 222.2,1020.6 223.9,1020.6 225.5,1020.6 227.1,1020.6 228.8,1020.6 230.4,1020.6 232,1020.5 233.7,1020.5 235.3,1020.5 237,1020.5 238.6,1020.5 240.2,1020.5 241.9,1020.4 243.5,1020.4 245.2,1020.4 246.8,1020.4 248.4,1020.4 250.1,1020.3 251.7,1020.3 253.3,1020.3 255,1020.3 256.6,1020.2 258.3,1020.2 259.9,1020.2 261.5,1020.1 263.2,1020.1 264.8,1020.1 266.5,1020 268.1,1020 269.7,1020 271.4,1019.9 273,1019.9 274.6,1019.8 276.3,1019.8 277.9,1019.8 279.6,1019.7 281.2,1019.7 282.8,1019.6 284.5,1019.6 286.1,1019.5 287.8,1019.5 289.4,1019.4 291,1019.3 292.7,1019.3 294.3,1019.2 296,1019.1 297.6,1019.1 299.2,1019 300.9,1018.9 302.5,1018.9 304.1,1018.8 305.8,1018.7 307.4,1018.6 309.1,1018.5 310.7,1018.4 312.3,1018.3 314,1018.2 315.6,1018.1 317.3,1018 318.9,1017.9 320.5,1017.8 322.2,1017.7 323.8,1017.6 325.4,1017.4 327.1,1017.3 328.7,1017.2 330.4,1017.1 332,1016.9 333.6,1016.8 335.3,1016.6 336.9,1016.5 338.6,1016.3 340.2,1016.1 341.8,1016 343.5,1015.8 345.1,1015.6 346.7,1015.4 348.4,1015.2 350,1015 351.7,1014.8 353.3,1014.6 354.9,1014.4 356.6,1014.1 358.2,1013.9 359.9,1013.7 361.5,1013.4 363.1,1013.2 364.8,1012.9 366.4,1012.6 368,1012.4 369.7,1012.1 371.3,1011.8 373,1011.5 374.6,1011.1 376.2,1010.8 377.9,1010.5 379.5,1010.1 381.2,1009.8 382.8,1009.4 384.4,1009 386.1,1008.7 387.7,1008.3 389.4,1007.9 391,1007.4 392.6,1007 394.3,1006.6 395.9,1006.1 397.5,1005.6 399.2,1005.2 400.8,1004.7 402.5,1004.2 404.1,1003.6 405.7,1003.1 407.4,1002.5 409,1002 410.7,1001.4 412.3,1000.8 413.9,1000.2 415.6,999.6 417.2,998.9 418.8,998.3 420.5,997.6 422.1,996.9 423.8,996.2 425.4,995.5 427,994.7 428.7,993.9 430.3,993.1" marker-start="url(#mgb)" marker-mid="url(#mgb)" marker-end="url(#mgb)"/>
<polyline points="432,992.3 433.6,991.5 435.2,990.7 436.9,989.8 438.5,988.9 440.1,988 441.8,987.1 443.4,986.1 445.1,985.2 446.7,984.2 448.3,983.1 450,982.1 451.6,981 453.3,979.9 454.9,978.8 456.5,977.7 458.2,976.5 459.8,975.3 461.4,974.1 463.1,972.8 464.7,971.6 466.4,970.3 468,968.9 469.6,967.6 471.3,966.2 472.9,964.8 474.6,963.3 476.2,961.8 477.8,960.3 479.5,958.8 481.1,957.2 482.8,955.6 484.4,954 486,952.3 487.7,950.6 489.3,948.9 490.9,947.1 492.6,945.3 494.2,943.5 495.9,941.6 497.5,939.7 499.1,937.7 500.8,935.8 502.4,933.7 504.1,931.7 505.7,929.6 507.3,927.5 509,925.3 510.6,923.1 512.2,920.9 513.9,918.6 515.5,916.3 517.2,913.9 518.8,911.5 520.4,909.1 522.1,906.6 523.7,904.1 525.4,901.5 527,898.9 528.6,896.2 530.3,893.6 531.9,890.8 533.5,888.1 535.2,885.2 536.8,882.4 538.5,879.5 540.1,876.5 541.7,873.5 543.4,870.5 545,867.4 546.7,864.3 548.3,861.2 549.9,858 551.6,854.7 553.2,851.4 554.8,848.1 556.5,844.7 558.1,841.3 559.8,837.8 561.4,834.3 563,830.7 564.7,827.1 566.3,823.4 568,819.7 569.6,816 571.2,812.2 572.9,808.4 574.5,804.5 576.2,800.6 577.8,796.7 579.4,792.6 581.1,788.6 582.7,784.5 584.3,780.4 586,776.2 587.6,772 589.3,767.7 590.9,763.4 592.5,759.1 594.2,754.7 595.8,750.3 597.5,745.8 599.1,741.3 600.7,736.8 602.4,732.2 604,727.6 605.6,722.9 607.3,718.2 608.9,713.5 610.6,708.7 612.2,703.9 613.8,699.1 615.5,694.2 617.1,689.3 618.8,684.4 620.4,679.4 622,674.4 623.7,669.4 625.3,664.3 626.9,659.2 628.6,654.1 630.2,649 631.9,643.8 633.5,638.6 635.1,633.4 636.8,628.2 638.4,622.9 640.1,617.6 641.7,612.3 643.3,607 645,601.6 646.6,596.3 648.2,590.9 649.9,585.5 651.5,580.1 653.2,574.6 654.8,569.2 656.4,563.8 658.1,558.3 659.7,552.8 661.4,547.4 663,541.9 664.6,536.4 666.3,530.9 667.9,525.4 669.6,520 671.2,514.5 672.8,509 674.5,503.5 676.1,498 677.7,492.6 679.4,487.1 681,481.6 682.7,476.2 684.3,470.8 685.9,465.4 687.6,460 689.2,454.6 690.9,449.2 692.5,443.9 694.1,438.5 695.8,433.2 697.4,427.9 699,422.7 700.7,417.4 702.3,412.2 704,407.1 705.6,401.9 707.2,396.8 708.9,391.7 710.5,386.7 712.2,381.7 713.8,376.7 715.4,371.8 717.1,366.9 718.7,362.1 720.3,357.3 722,352.6 723.6,347.9 725.3,343.2 726.9,338.6 728.5,334.1 730.2,329.6 731.8,325.1 733.5,320.8 735.1,316.4 736.7,312.2 738.4,308 740,303.8 741.7,299.7 743.3,295.7 744.9,291.8 746.6,287.9 748.2,284.1 749.8,280.4 751.5,276.7 753.1,273.1 754.8,269.6 756.4,266.1 758,262.7 759.7,259.5 761.3,256.2 763,253.1 764.6,250 766.2,247.1 767.9,244.2 769.5,241.4 771.1,238.7 772.8,236 774.4,233.5 776.1,231 777.7,228.6 779.3,226.4 781,224.2 782.6,222.1 784.3,220.1 785.9,218.1 787.5,216.3 789.2,214.6 790.8,212.9 792.4,211.4 794.1,210 795.7,208.6 797.4,207.3 799,206.2 800.6,205.1 802.3,204.2 803.9,203.3" marker-start="url(#mga)" marker-mid="url(#mga)" marker-end="url(#mga)"/>
<polyline points="805.6,202.5 807.2,201.9 808.8,201.3 810.5,200.8 812.1,200.5 813.7,200.2 815.4,200 817,200 818.7,200 820.3,200.1 821.9,200.4 823.6,200.7 825.2,201.1 826.9,201.6 828.5,202.3 830.1,203" marker-start="url(#mgb)" marker-mid="url(#mgb)" marker-end="url(#mgb)"/>
<polyline points="831.8,203.8 833.4,204.7 835.1,205.8 836.7,206.9 838.3,208.1 840,209.4 841.6,210.8 843.2,212.3 844.9,213.9 846.5,215.6 848.2,217.4 849.8,219.3 851.4,221.2 853.1,223.3 854.7,225.5 856.4,227.7 858,230.1 859.6,232.5 861.3,235 862.9,237.6 864.5,240.3 866.2,243.1 867.8,245.9 869.5,248.8 871.1,251.9 872.7,255 874.4,258.2 876,261.4 877.7,264.8 879.3,268.2 880.9,271.7 882.6,275.2 884.2,278.9 885.8,282.6 887.5,286.4 889.1,290.2 890.8,294.1 892.4,298.1 894,302.2 895.7,306.3 897.3,310.5 899,314.7 900.6,319 902.2,323.4 903.9,327.8 905.5,332.3 907.1,336.8 908.8,341.4 910.4,346 912.1,350.7 913.7,355.4 915.3,360.2 917,365 918.6,369.9 920.3,374.8 921.9,379.7 923.5,384.7 925.2,389.7 926.8,394.8 928.5,399.9 930.1,405 931.7,410.2 933.4,415.4 935,420.6 936.6,425.8 938.3,431.1 939.9,436.4 941.6,441.7 943.2,447.1 944.8,452.4 946.5,457.8 948.1,463.2 949.8,468.6 951.4,474 953,479.5 954.7,484.9 956.3,490.4 957.9,495.8 959.6,501.3 961.2,506.8 962.9,512.3 964.5,517.8 966.1,523.3 967.8,528.7 969.4,534.2 971.1,539.7 972.7,545.2 974.3,550.7 976,556.1 977.6,561.6 979.2,567 980.9,572.5 982.5,577.9 984.2,583.3 985.8,588.7 987.4,594.1 989.1,599.5 990.7,604.8 992.4,610.2 994,615.5 995.6,620.8 997.3,626.1 998.9,631.3 1000.5,636.5 1002.2,641.7 1003.8,646.9 1005.5,652.1 1007.1,657.2 1008.7,662.3 1010.4,667.4 1012,672.4 1013.7,677.4 1015.3,682.4 1016.9,687.4 1018.6,692.3 1020.2,697.2 1021.9,702 1023.5,706.8 1025.1,711.6 1026.8,716.3 1028.4,721.1 1030,725.7 1031.7,730.4 1033.3,735 1035,739.5 1036.6,744 1038.2,748.5 1039.9,752.9 1041.5,757.3 1043.2,761.7 1044.8,766 1046.4,770.3 1048.1,774.5 1049.7,778.7 1051.3,782.9 1053,787 1054.6,791 1056.3,795.1 1057.9,799 1059.5,803 1061.2,806.9 1062.8,810.7 1064.5,814.5 1066.1,818.3 1067.7,822 1069.4,825.6 1071,829.3 1072.6,832.8 1074.3,836.4 1075.9,839.9 1077.6,843.3 1079.2,846.7 1080.8,850.1 1082.5,853.4 1084.1,856.7 1085.8,859.9 1087.4,863.1 1089,866.2 1090.7,869.3 1092.3,872.3 1093.9,875.3 1095.6,878.3 1097.2,881.2 1098.9,884.1 1100.5,886.9 1102.1,889.7 1103.8,892.5 1105.4,895.2 1107.1,897.8 1108.7,900.5 1110.3,903 1112,905.6 1113.6,908.1 1115.3,910.5 1116.9,912.9 1118.5,915.3 1120.2,917.7 1121.8,920 1123.4,922.2 1125.1,924.4 1126.7,926.6 1128.4,928.8 1130,930.9 1131.6,932.9 1133.3,935 1134.9,937 1136.6,938.9 1138.2,940.8 1139.8,942.7 1141.5,944.6 1143.1,946.4 1144.7,948.2 1146.4,949.9 1148,951.6 1149.7,953.3 1151.3,955 1152.9,956.6 1154.6,958.2 1156.2,959.7 1157.9,961.2 1159.5,962.7 1161.1,964.2 1162.8,965.6 1164.4,967 1166,968.4 1167.7,969.7 1169.3,971 1171,972.3 1172.6,973.6 1174.2,974.8 1175.9,976 1177.5,977.2 1179.2,978.4 1180.8,979.5 1182.4,980.6 1184.1,981.7 1185.7,982.7 1187.3,983.7 1189,984.8 1190.6,985.7 1192.3,986.7 1193.9,987.6 1195.5,988.6 1197.2,989.5 1198.8,990.3 1200.5,991.2 1202.1,992 1203.7,992.8" marker-start="url(#mga)" marker-mid="url(#mga)" marker-end="url(#mga)"/>
<polyline points="1205.4,993.6 1207,994.4 1208.7,995.2 1210.3,995.9 1211.9,996.6 1213.6,997.3 1215.2,998 1216.8,998.7 1218.5,999.3 1220.1,999.9 1221.8,1000.6 1223.4,1001.2 1225,1001.8 1226.7,1002.3 1228.3,1002.9 1230,1003.4 1231.6,1003.9 1233.2,1004.5 1234.9,1005 1236.5,1005.4 1238.1,1005.9 1239.8,1006.4 1241.4,1006.8 1243.1,1007.3 1244.7,1007.7 1246.3,1008.1 1248,1008.5 1249.6,1008.9 1251.3,1009.3 1252.9,1009.6 1254.5,1010 1256.2,1010.3 1257.8,1010.7 1259.4,1011 1261.1,1011.3 1262.7,1011.6 1264.4,1011.9 1266,1012.2 1267.6,1012.5 1269.3,1012.8 1270.9,1013.1 1272.6,1013.3 1274.2,1013.6 1275.8,1013.8 1277.5,1014.1 1279.1,1014.3 1280.7,1014.5 1282.4,1014.7 1284,1014.9 1285.7,1015.1 1287.3,1015.3 1288.9,1015.5 1290.6,1015.7 1292.2,1015.9 1293.9,1016.1 1295.5,1016.2 1297.1,1016.4 1298.8,1016.6 1300.4,1016.7 1302.1,1016.9 1303.7,1017 1305.3,1017.1 1307,1017.3 1308.6,1017.4 1310.2,1017.5 1311.9,1017.6 1313.5,1017.8 1315.2,1017.9 1316.8,1018 1318.4,1018.1 1320.1,1018.2 1321.7,1018.3 1323.4,1018.4 1325,1018.5 1326.6,1018.6 1328.3,1018.7 1329.9,1018.7 1331.5,1018.8 1333.2,1018.9 1334.8,1019 1336.5,1019 1338.1,1019.1 1339.7,1019.2 1341.4,1019.2 1343,1019.3 1344.7,1019.4 1346.3,1019.4 1347.9,1019.5 1349.6,1019.5 1351.2,1019.6 1352.8,1019.6 1354.5,1019.7 1356.1,1019.7 1357.8,1019.8 1359.4,1019.8 1361,1019.9 1362.7,1019.9 1364.3,1020 1366,1020 1367.6,1020 1369.2,1020.1 1370.9,1020.1 1372.5,1020.1 1374.1,1020.2 1375.8,1020.2 1377.4,1020.2 1379.1,1020.2 1380.7,1020.3 1382.3,1020.3 1384,1020.3 1385.6,1020.3 1387.3,1020.4 1388.9,1020.4 1390.5,1020.4 1392.2,1020.4 1393.8,1020.5 1395.5,1020.5 1397.1,1020.5 1398.7,1020.5 1400.4,1020.5 1402,1020.5 1403.6,1020.6 1405.3,1020.6 1406.9,1020.6 1408.6,1020.6 1410.2,1020.6 1411.8,1020.6 1413.5,1020.6 1415.1,1020.6 1416.8,1020.7 1418.4,1020.7 1420,1020.7 1421.7,1020.7 1423.3,1020.7 1424.9,1020.7 1426.6,1020.7 1428.2,1020.7 1429.9,1020.7 1431.5,1020.7 1433.1,1020.7 1434.8,1020.8 1436.4,1020.8 1438.1,1020.8 1439.7,1020.8 1441.3,1020.8 1443,1020.8 1444.6,1020.8 1446.2,1020.8 1447.9,1020.8 1449.5,1020.8 1451.2,1020.8 1452.8,1020.8 1454.4,1020.8 1456.1,1020.8 1457.7,1020.8 1459.4,1020.8 1461,1020.8 1462.6,1020.8 1464.3,1020.8 1465.9,1020.8 1467.5,1020.8 1469.2,1020.8 1470.8,1020.8 1472.5,1020.8 1474.1,1020.9 1475.7,1020.9 1477.4,1020.9 1479,1020.9 1480.7,1020.9 1482.3,1020.9 1483.9,1020.9 1485.6,1020.9 1487.2,1020.9 1488.9,1020.9 1490.5,1020.9 1492.1,1020.9 1493.8,1020.9 1495.4,1020.9 1497,1020.9 1498.7,1020.9 1500.3,1020.9 1502,1020.9 1503.6,1020.9 1505.2,1020.9 1506.9,1020.9 1508.5,1020.9 1510.2,1020.9 1511.8,1020.9 1513.4,1020.9 1515.1,1020.9 1516.7,1020.9 1518.3,1020.9 1520,1020.9 1521.6,1020.9 1523.3,1020.9 1524.9,1020.9 1526.5,1020.9 1528.2,1020.9 1529.8,1020.9 1531.5,1020.9 1533.1,1020.9 1534.7,1020.9 1536.4,1020.9 1538,1020.9 1539.6,1020.9 1541.3,1020.9 1542.9,1020.9 1544.6,1020.9 1546.2,1020.9 1547.8,1020.9 1549.5,1020.9 1551.1,1020.9 1552.8,1020.9 1554.4,1020.9 1556,1020.9 1557.7,1020.9 1559.3,1020.9 1561,1020.9 1562.6,1020.9 1564.2,1020.9 1565.9,1020.9 1567.5,1020.9 1569.1,1020.9 1570.8,1020.9 1572.4,1020.9 1574.1,1020.9 1575.7,1020.9 1577.3,1020.9 1579,1020.9 1580.6,1020.9 1582.3,1020.9 1583.9,1020.9 1585.5,1020.9 1587.2,1020.9 1588.8,1020.9 1590.4,1020.9 1592.1,1020.9 1593.7,1020.9 1595.4,1020.9 1597,1020.9 1598.6,1020.9 1600.3,1020.9 1601.9,1020.9 1603.6,1020.9 1605.2,1020.9 1606.8,1020.9 1608.5,1020.9 1610.1,1020.9 1611.7,1020.9 1613.4,1020.9 1615,1020.9 1616.7,1020.9 1618.3,1020.9 1619.9,1020.9 1621.6,1020.9 1623.2,1020.9 1624.9,1020.9 1626.5,1020.9 1628.1,1020.9 1629.8,1020.9 1631.4,1020.9 1633,1020.9 1634.7,1020.9 1636.3,1020.9 1638,1020.9 1639.6,1020.9 1641.2,1020.9 1642.9,1020.9 1644.5,1020.9 1646.2,1020.9 1647.8,1020.9 1649.4,1020.9 1651.1,1020.9 1652.7,1020.9 1654.4,1020.9 1656,1020.9 1657.6,1020.9 1659.3,1020.9 1660.9,1020.9 1662.5,1020.9 1664.2,1020.9 1665.8,1020.9 1667.5,1020.9 1669.1,1020.9 1670.7,1020.9 1672.4,1020.9 1674,1020.9 1675.7,1020.9 1677.3,1020.9 1678.9,1020.9 1680.6,1020.9 1682.2,1020.9 1683.8,1020.9 1685.5,1020.9 1687.1,1020.9 1688.8,1020.9 1690.4,1020.9 1692,1020.9 1693.7,1020.9 1695.3,1020.9 1697,1020.9 1698.6,1020.9 1700.2,1020.9 1701.9,1020.9 1703.5,1020.9 1705.1,1020.9 1706.8,1020.9 1708.4,1020.9 1710.1,1020.9 1711.7,1020.9 1713.3,1020.9 1715,1020.9 1716.6,1020.9 1718.3,1020.9 1719.9,1020.9 1721.5,1020.9 1723.2,1020.9 1724.8,1020.9 1726.4,1020.9 1728.1,1020.9 1729.7,1020.9 1731.4,1020.9 1733,1020.9 1734.6,1020.9 1736.3,1020.9 1737.9,1020.9 1739.6,1020.9 1741.2,1020.9 1742.8,1020.9 1744.5,1020.9 1746.1,1020.9 1747.8,1020.9 1749.4,1020.9 1751,1020.9 1752.7,1020.9 1754.3,1020.9 1755.9,1020.9 1757.6,1020.9 1759.2,1020.9 1760.9,1020.9 1762.5,1020.9 1764.1,1020.9 1765.8,1020.9 1767.4,1020.9 1769.1,1020.9 1770.7,1020.9 1772.3,1020.9 1774,1020.9 1775.6,1020.9 1777.2,1020.9 1778.9,1020.9 1780.5,1020.9 1782.2,1020.9 1783.8,1020.9 1785.4,1020.9 1787.1,1020.9 1788.7,1020.9 1790.4,1020.9 1792,1020.9 1793.6,1020.9 1795.3,1020.9 1796.9,1020.9 1798.5,1020.9 1800.2,1020.9 1801.8,1020.9 1803.5,1020.9 1805.1,1020.9 1806.7,1020.9 1808.4,1020.9 1810,1020.9 1811.7,1020.9 1813.3,1020.9 1814.9,1020.9 1816.6,1020.9 1818.2,1020.9 1819.8,1020.9 1821.5,1020.9 1823.1,1020.9 1824.8,1020.9 1826.4,1020.9 1828,1020.9 1829.7,1020.9 1831.3,1020.9 1833,1020.9 1834.6,1020.9 1836.2,1020.9 1837.9,1020.9 1839.5,1020.9 1841.2,1020.9 1842.8,1020.9 1844.4,1020.9 1846.1,1020.9 1847.7,1020.9 1849.3,1020.9 1851,1020.9 1852.6,1020.9 1854.3,1020.9 1855.9,1020.9 1857.5,1020.9 1859.2,1020.9 1860.8,1020.9 1862.5,1020.9 1864.1,1020.9 1865.7,1020.9 1867.4,1020.9 1869,1020.9 1870.6,1020.9 1872.3,1020.9 1873.9,1020.9 1875.6,1020.9 1877.2,1020.9 1878.8,1020.9 1880.5,1020.9 1882.1,1020.9 1883.8,1020.9 1885.4,1020.9 1887,1020.9 1888.7,1020.9 1890.3,1020.9 1891.9,1020.9 1893.6,1020.9 1895.2,1020.9 1896.9,1020.9 1898.5,1020.9 1900.1,1020.9 1901.8,1020.9 1903.4,1020.9 1905.1,1020.9 1906.7,1020.9 1908.3,1020.9 1910,1020.9 1911.6,1020.9 1913.2,1020.9 1914.9,1020.9 1916.5,1020.9 1918.2,1020.9 1919.8,1020.9 1921.4,1020.9 1923.1,1020.9 1924.7,1020.9 1926.4,1020.9 1928,1020.9 1929.6,1020.9 1931.3,1020.9 1932.9,1020.9 1934.6,1020.9 1936.2,1020.9 1937.8,1020.9 1939.5,1020.9 1941.1,1020.9 1942.7,1020.9 1944.4,1020.9 1946,1020.9 1947.7,1020.9 1949.3,1020.9 1950.9,1020.9 1952.6,1020.9 1954.2,1020.9 1955.9,1020.9 1957.5,1020.9 1959.1,1020.9 1960.8,1020.9 1962.4,1020.9 1964,1020.9 1965.7,1020.9 1967.3,1020.9 1969,1020.9 1970.6,1020.9 1972.2,1020.9 1973.9,1020.9 1975.5,1020.9 1977.2,1020.9 1978.8,1020.9 1980.4,1020.9 1982.1,1020.9 1983.7,1020.9 1985.3,1020.9 1987,1020.9 1988.6,1020.9 1990.3,1020.9 1991.9,1020.9 1993.5,1020.9 1995.2,1020.9 1996.8,1020.9 1998.5,1020.9 2000.1,1020.9 2001.7,1020.9 2003.4,1020.9 2005,1020.9 2006.6,1020.9 2008.3,1020.9 2009.9,1020.9 2011.6,1020.9 2013.2,1020.9 2014.8,1020.9 2016.5,1020.9 2018.1,1020.9 2019.8,1020.9 2021.4,1020.9 2023,1020.9 2024.7,1020.9 2026.3,1020.9 2028,1020.9 2029.6,1020.9 2031.2,1020.9 2032.9,1020.9 2034.5,1020.9 2036.1,1020.9 2037.8,1020.9 2039.4,1020.9 2041.1,1020.9 2042.7,1020.9 2044.3,1020.9 2046,1020.9 2047.6,1020.9 2049.3,1020.9 2050.9,1020.9 2052.5,1020.9 2054.2,1020.9 2055.8,1020.9 2057.4,1020.9 2059.1,1020.9 2060.7,1020.9 2062.4,1020.9 2064,1020.9 2065.6,1020.9 2067.3,1020.9 2068.9,1020.9 2070.6,1020.9 2072.2,1020.9 2073.8,1020.9 2075.5,1020.9 2077.1,1020.9 2078.7,1020.9 2080.4,1020.9 2082,1020.9 2083.7,1020.9 2085.3,1020.9 2086.9,1020.9 2088.6,1020.9 2090.2,1020.9 2091.9,1020.9 2093.5,1020.9 2095.1,1020.9 2096.8,1020.9 2098.4,1020.9 2100,1020.9 2101.7,1020.9 2103.3,1020.9 2105,1020.9 2106.6,1020.9 2108.2,1020.9 2109.9,1020.9 2111.5,1020.9 2113.2,1020.9 2114.8,1020.9 2116.4,1020.9 2118.1,1020.9 2119.7,1020.9 2121.4,1020.9 2123,1020.9 2124.6,1020.9 2126.3,1020.9 2127.9,1020.9 2129.5,1020.9 2131.2,1020.9 2132.8,1020.9 2134.5,1020.9 2136.1,1020.9 2137.7,1020.9 2139.4,1020.9 2141,1020.9 2142.7,1020.9 2144.3,1020.9 2145.9,1020.9 2147.6,1020.9 2149.2,1020.9 2150.8,1020.9 2152.5,1020.9 2154.1,1020.9 2155.8,1020.9 2157.4,1020.9 2159,1020.9 2160.7,1020.9 2162.3,1020.9 2164,1020.9 2165.6,1020.9 2167.2,1020.9 2168.9,1020.9 2170.5,1020.9 2172.1,1020.9 2173.8,1020.9 2175.4,1020.9 2177.1,1020.9 2178.7,1020.9 2180.3,1020.9 2182,1020.9 2183.6,1020.9 2185.3,1020.9 2186.9,1020.9 2188.5,1020.9 2190.2,1020.9 2191.8,1020.9 2193.4,1020.9 2195.1,1020.9 2196.7,1020.9 2198.4,1020.9 2200,1020.9 2201.6,1020.9 2203.3,1020.9 2204.9,1020.9 2206.6,1020.9 2208.2,1020.9 2209.8,1020.9 2211.5,1020.9 2213.1,1020.9 2214.8,1020.9 2216.4,1020.9 2218,1020.9 2219.7,1020.9 2221.3,1020.9 2222.9,1020.9 2224.6,1020.9 2226.2,1020.9 2227.9,1020.9 2229.5,1020.9 2231.1,1020.9 2232.8,1020.9 2234.4,1020.9 2236.1,1020.9 2237.7,1020.9 2239.3,1020.9 2241,1020.9 2242.6,1020.9 2244.2,1020.9 2245.9,1020.9 2247.5,1020.9 2249.2,1020.9 2250.8,1020.9 2252.4,1020.9 2254.1,1020.9 2255.7,1020.9 2257.4,1020.9 2259,1020.9 2260.6,1020.9 2262.3,1020.9 2263.9,1020.9 2265.5,1020.9 2267.2,1020.9 2268.8,1020.9 2270.5,1020.9 2272.1,1020.9 2273.7,1020.9 2275.4,1020.9 2277,1020.9 2278.7,1020.9 2280.3,1020.9 2281.9,1020.9 2283.6,1020.9 2285.2,1020.9 2286.8,1020.9 2288.5,1020.9 2290.1,1020.9 2291.8,1020.9 2293.4,1020.9 2295,1020.9 2296.7,1020.9 2298.3,1020.9" marker-start="url(#mgb)" marker-mid="url(#mgb)" marker-end="url(#mgb)"/>
<polyline points="168.1,1020.9 169.8,1020.9 171.4,1020.9 173.1,1020.9 174.7,1020.9 176.3,1020.9 178,1020.9 179.6,1020.9 181.2,1020.9 182.9,1020.9 184.5,1020.9 186.2,1020.9 187.8,1020.9 189.4,1020.9 191.1,1020.9 192.7,1020.9 194.4,1020.9 196,1020.9 197.6,1020.9 199.3,1020.9 200.9,1020.9 202.6,1020.9 204.2,1020.9 205.8,1020.9 207.5,1020.9 209.1,1020.9 210.7,1020.9 212.4,1020.9 214,1020.9 215.7,1020.9 217.3,1020.9 218.9,1020.9 220.6,1020.9 222.2,1020.9 223.9,1020.9 225.5,1020.9 227.1,1020.9 228.8,1020.9 230.4,1020.9 232,1020.9 233.7,1020.9 235.3,1020.9 237,1020.9 238.6,1020.9 240.2,1020.9 241.9,1020.9 243.5,1020.9 245.2,1020.9 246.8,1020.9 248.4,1020.9 250.1,1020.9 251.7,1020.9 253.3,1020.9 255,1020.9 256.6,1020.9 258.3,1020.9 259.9,1020.9 261.5,1020.9 263.2,1020.9 264.8,1020.9 266.5,1020.9 268.1,1020.9 269.7,1020.9 271.4,1020.9 273,1020.9 274.6,1020.9 276.3,1020.9 277.9,1020.9 279.6,1020.9 281.2,1020.9 282.8,1020.9 284.5,1020.9 286.1,1020.9 287.8,1020.9 289.4,1020.9 291,1020.9 292.7,1020.9 294.3,1020.9 296,1020.9 297.6,1020.9 299.2,1020.9 300.9,1020.9 302.5,1020.9 304.1,1020.9 305.8,1020.9 307.4,1020.9 309.1,1020.9 310.7,1020.9 312.3,1020.9 314,1020.9 315.6,1020.9 317.3,1020.9 318.9,1020.9 320.5,1020.9 322.2,1020.9 323.8,1020.9 325.4,1020.9 327.1,1020.9 328.7,1020.9 330.4,1020.9 332,1020.9 333.6,1020.9 335.3,1020.9 336.9,1020.9 338.6,1020.9 340.2,1020.9 341.8,1020.9 343.5,1020.9 345.1,1020.9 346.7,1020.9 348.4,1020.9 350,1020.9 351.7,1020.9 353.3,1020.9 354.9,1020.9 356.6,1020.9 358.2,1020.9 359.9,1020.9 361.5,1020.9 363.1,1020.9 364.8,1020.9 366.4,1020.9 368,1020.9 369.7,1020.9 371.3,1020.9 373,1020.9 374.6,1020.9 376.2,1020.9 377.9,1020.9 379.5,1020.9 381.2,1020.9 382.8,1020.9 384.4,1020.9 386.1,1020.9 387.7,1020.9 389.4,1020.9 391,1020.9 392.6,1020.9 394.3,1020.9 395.9,1020.9 397.5,1020.9 399.2,1020.9 400.8,1020.9 402.5,1020.9 404.1,1020.9 405.7,1020.9 407.4,1020.9 409,1020.9 410.7,1020.9 412.3,1020.9 413.9,1020.9 415.6,1020.9 417.2,1020.9 418.8,1020.9 420.5,1020.9 422.1,1020.9 423.8,1020.9 425.4,1020.9 427,1020.9 428.7,1020.9 430.3,1020.9 432,1020.9 433.6,1020.9 435.2,1020.9 436.9,1020.9 438.5,1020.9 440.1,1020.9 441.8,1020.9 443.4,1020.9 445.1,1020.9 446.7,1020.9 448.3,1020.9 450,1020.9 451.6,1020.9 453.3,1020.9 454.9,1020.9 456.5,1020.9 458.2,1020.9 459.8,1020.9 461.4,1020.9 463.1,1020.9 464.7,1020.9 466.4,1020.9 468,1020.9 469.6,1020.9 471.3,1020.9 472.9,1020.9 474.6,1020.9 476.2,1020.9 477.8,1020.9 479.5,1020.9 481.1,1020.9 482.8,1020.9 484.4,1020.9 486,1020.9 487.7,1020.9 489.3,1020.9 490.9,1020.9 492.6,1020.9 494.2,1020.9 495.9,1020.9 497.5,1020.9 499.1,1020.9 500.8,1020.9 502.4,1020.9 504.1,1020.9 505.7,1020.9 507.3,1020.9 509,1020.9 510.6,1020.9 512.2,1020.9 513.9,1020.9 515.5,1020.9 517.2,1020.9 518.8,1020.9 520.4,1020.9 522.1,1020.9 523.7,1020.9 525.4,1020.9 527,1020.9 528.6,1020.9 530.3,1020.9 531.9,1020.9 533.5,1020.9 535.2,1020.9 536.8,1020.9 538.5,1020.9 540.1,1020.9 541.7,1020.9 543.4,1020.9 545,1020.9 546.7,1020.9 548.3,1020.9 549.9,1020.9 551.6,1020.9 553.2,1020.9 554.8,1020.9 556.5,1020.9 558.1,1020.9 559.8,1020.9 561.4,1020.9 563,1020.9 564.7,1020.9 566.3,1020.9 568,1020.9 569.6,1020.9 571.2,1020.9 572.9,1020.9 574.5,1020.9 576.2,1020.9 577.8,1020.9 579.4,1020.9 581.1,1020.9 582.7,1020.9 584.3,1020.9 586,1020.9 587.6,1020.9 589.3,1020.9 590.9,1020.9 592.5,1020.9 594.2,1020.9 595.8,1020.9 597.5,1020.9 599.1,1020.8 600.7,1020.8 602.4,1020.8 604,1020.8 605.6,1020.8 607.3,1020.8 608.9,1020.8 610.6,1020.8 612.2,1020.8 613.8,1020.8 615.5,1020.8 617.1,1020.8 618.8,1020.8 620.4,1020.8 622,1020.8 623.7,1020.8 625.3,1020.8 626.9,1020.8 628.6,1020.8 630.2,1020.8 631.9,1020.8 633.5,1020.8 635.1,1020.8 636.8,1020.8 638.4,1020.8 640.1,1020.7 641.7,1020.7 643.3,1020.7 645,1020.7 646.6,1020.7 648.2,1020.7 649.9,1020.7 651.5,1020.7 653.2,1020.7 654.8,1020.7 656.4,1020.7 658.1,1020.7 659.7,1020.6 661.4,1020.6 663,1020.6 664.6,1020.6 666.3,1020.6 667.9,1020.6 669.6,1020.6 671.2,1020.6 672.8,1020.5 674.5,1020.5 676.1,1020.5 677.7,1020.5 679.4,1020.5 681,1020.5 682.7,1020.5 684.3,1020.4 685.9,1020.4 687.6,1020.4 689.2,1020.4 690.9,1020.4 692.5,1020.3 694.1,1020.3 695.8,1020.3 697.4,1020.3 699,1020.2 700.7,1020.2 702.3,1020.2 704,1020.1 705.6,1020.1 707.2,1020.1 708.9,1020.1 710.5,1020 712.2,1020 713.8,1020 715.4,1019.9 717.1,1019.9 718.7,1019.8 720.3,1019.8 722,1019.8 723.6,1019.7 725.3,1019.7 726.9,1019.6 728.5,1019.6 730.2,1019.5 731.8,1019.5 733.5,1019.4 735.1,1019.4 736.7,1019.3 738.4,1019.2 740,1019.2 741.7,1019.1 743.3,1019 744.9,1019 746.6,1018.9 748.2,1018.8 749.8,1018.8 751.5,1018.7 753.1,1018.6 754.8,1018.5 756.4,1018.4 758,1018.3 759.7,1018.3 761.3,1018.2 763,1018.1 764.6,1018 766.2,1017.9 767.9,1017.8 769.5,1017.6 771.1,1017.5 772.8,1017.4 774.4,1017.3 776.1,1017.2 777.7,1017 779.3,1016.9 781,1016.8 782.6,1016.6 784.3,1016.5 785.9,1016.3 787.5,1016.2 789.2,1016 790.8,1015.8 792.4,1015.7 794.1,1015.5 795.7,1015.3 797.4,1015.1 799,1014.9 800.6,1014.7 802.3,1014.5 803.9,1014.3 805.6,1014.1 807.2,1013.9 808.8,1013.7 810.5,1013.4 812.1,1013.2 813.7,1012.9 815.4,1012.7 817,1012.4 818.7,1012.2 820.3,1011.9 821.9,1011.6 823.6,1011.3 825.2,1011 826.9,1010.7 828.5,1010.4 830.1,1010 831.8,1009.7 833.4,1009.4 835.1,1009 836.7,1008.6 838.3,1008.3 840,1007.9 841.6,1007.5 843.2,1007.1 844.9,1006.7 846.5,1006.2 848.2,1005.8 849.8,1005.4 851.4,1004.9 853.1,1004.4 854.7,1003.9 856.4,1003.4 858,1002.9 859.6,1002.4 861.3,1001.9 862.9,1001.3 864.5,1000.8 866.2,1000.2 867.8,999.6 869.5,999 871.1,998.4 872.7,997.7 874.4,997.1 876,996.4 877.7,995.7 879.3,995.1 880.9,994.3 882.6,993.6 884.2,992.9 885.8,992.1 887.5,991.3" marker-start="url(#mob)" marker-mid="url(#mob)" marker-end="url(#mob)"/>
<polyline points="889.1,990.5 890.8,989.7 892.4,988.9 894,988 895.7,987.1 897.3,986.2 899,985.3 900.6,984.4 902.2,983.4 903.9,982.4 905.5,981.4 907.1,980.4 908.8,979.4 910.4,978.3 912.1,977.2 913.7,976.1 915.3,975 917,973.8 918.6,972.6 920.3,971.4 921.9,970.2 923.5,969 925.2,967.7 926.8,966.4 928.5,965 930.1,963.7 931.7,962.3 933.4,960.9 935,959.4 936.6,958 938.3,956.5 939.9,955 941.6,953.4 943.2,951.8 944.8,950.2 946.5,948.6 948.1,946.9 949.8,945.2 951.4,943.5 953,941.7 954.7,939.9 956.3,938.1 957.9,936.2 959.6,934.3 961.2,932.4 962.9,930.5 964.5,928.5 966.1,926.5 967.8,924.4 969.4,922.3 971.1,920.2 972.7,918 974.3,915.8 976,913.6 977.6,911.3 979.2,909 980.9,906.7 982.5,904.3 984.2,901.9 985.8,899.5 987.4,897 989.1,894.4 990.7,891.9 992.4,889.3 994,886.7 995.6,884 997.3,881.3 998.9,878.5 1000.5,875.7 1002.2,872.9 1003.8,870 1005.5,867.1 1007.1,864.2 1008.7,861.2 1010.4,858.2 1012,855.1 1013.7,852 1015.3,848.9 1016.9,845.7 1018.6,842.5 1020.2,839.2 1021.9,835.9 1023.5,832.6 1025.1,829.2 1026.8,825.8 1028.4,822.3 1030,818.9 1031.7,815.3 1033.3,811.7 1035,808.1 1036.6,804.5 1038.2,800.8 1039.9,797.1 1041.5,793.3 1043.2,789.5 1044.8,785.6 1046.4,781.7 1048.1,777.8 1049.7,773.9 1051.3,769.9 1053,765.8 1054.6,761.8 1056.3,757.6 1057.9,753.5 1059.5,749.3 1061.2,745.1 1062.8,740.8 1064.5,736.6 1066.1,732.2 1067.7,727.9 1069.4,723.5 1071,719.1 1072.6,714.6 1074.3,710.1 1075.9,705.6 1077.6,701 1079.2,696.5 1080.8,691.9 1082.5,687.2 1084.1,682.5 1085.8,677.8 1087.4,673.1 1089,668.4 1090.7,663.6 1092.3,658.8 1093.9,653.9 1095.6,649.1 1097.2,644.2 1098.9,639.3 1100.5,634.4 1102.1,629.4 1103.8,624.4 1105.4,619.5 1107.1,614.4 1108.7,609.4 1110.3,604.4 1112,599.3 1113.6,594.2 1115.3,589.2 1116.9,584.1 1118.5,578.9 1120.2,573.8 1121.8,568.7 1123.4,563.5 1125.1,558.4 1126.7,553.2 1128.4,548 1130,542.9 1131.6,537.7 1133.3,532.5 1134.9,527.3 1136.6,522.1 1138.2,516.9 1139.8,511.7 1141.5,506.5 1143.1,501.4 1144.7,496.2 1146.4,491 1148,485.8 1149.7,480.7 1151.3,475.5 1152.9,470.4 1154.6,465.2 1156.2,460.1 1157.9,455 1159.5,449.9 1161.1,444.9 1162.8,439.8 1164.4,434.8 1166,429.8 1167.7,424.8 1169.3,419.8 1171,414.8 1172.6,409.9 1174.2,405 1175.9,400.1 1177.5,395.3 1179.2,390.5 1180.8,385.7 1182.4,381 1184.1,376.2 1185.7,371.6 1187.3,366.9 1189,362.3 1190.6,357.8 1192.3,353.2 1193.9,348.7 1195.5,344.3 1197.2,339.9 1198.8,335.6 1200.5,331.2 1202.1,327 1203.7,322.8 1205.4,318.6 1207,314.5 1208.7,310.5 1210.3,306.5 1211.9,302.5 1213.6,298.6 1215.2,294.8 1216.8,291 1218.5,287.3 1220.1,283.6 1221.8,280 1223.4,276.5 1225,273 1226.7,269.6 1228.3,266.3 1230,263 1231.6,259.8 1233.2,256.7 1234.9,253.6 1236.5,250.6 1238.1,247.7 1239.8,244.9 1241.4,242.1 1243.1,239.4 1244.7,236.7 1246.3,234.2 1248,231.7 1249.6,229.3 1251.3,227 1252.9,224.8 1254.5,222.6 1256.2,220.5 1257.8,218.5 1259.4,216.6 1261.1,214.8 1262.7,213 1264.4,211.3 1266,209.7 1267.6,208.2 1269.3,206.8 1270.9,205.5 1272.6,204.2 1274.2,203.1 1275.8,202 1277.5,201 1279.1,200.1" marker-start="url(#moa)" marker-mid="url(#moa)" marker-end="url(#moa)"/>
<polyline points="1280.7,199.3 1282.4,198.6 1284,197.9 1285.7,197.4 1287.3,196.9 1288.9,196.6 1290.6,196.3 1292.2,196.1 1293.9,196 1295.5,196 1297.1,196 1298.8,196.2 1300.4,196.4 1302.1,196.8 1303.7,197.2 1305.3,197.7 1307,198.3 1308.6,199" marker-start="url(#mob)" marker-mid="url(#mob)" marker-end="url(#mob)"/>
<polyline points="1310.2,199.8 1311.9,200.7 1313.5,201.6 1315.2,202.6 1316.8,203.8 1318.4,205 1320.1,206.3 1321.7,207.7 1323.4,209.1 1325,210.7 1326.6,212.3 1328.3,214 1329.9,215.9 1331.5,217.7 1333.2,219.7 1334.8,221.8 1336.5,223.9 1338.1,226.1 1339.7,228.4 1341.4,230.7 1343,233.2 1344.7,235.7 1346.3,238.3 1347.9,241 1349.6,243.7 1351.2,246.6 1352.8,249.5 1354.5,252.4 1356.1,255.5 1357.8,258.6 1359.4,261.7 1361,265 1362.7,268.3 1364.3,271.7 1366,275.1 1367.6,278.6 1369.2,282.2 1370.9,285.8 1372.5,289.5 1374.1,293.3 1375.8,297.1 1377.4,300.9 1379.1,304.9 1380.7,308.9 1382.3,312.9 1384,317 1385.6,321.1 1387.3,325.3 1388.9,329.5 1390.5,333.8 1392.2,338.2 1393.8,342.5 1395.5,347 1397.1,351.4 1398.7,355.9 1400.4,360.5 1402,365.1 1403.6,369.7 1405.3,374.4 1406.9,379.1 1408.6,383.8 1410.2,388.6 1411.8,393.4 1413.5,398.2 1415.1,403.1 1416.8,407.9 1418.4,412.9 1420,417.8 1421.7,422.8 1423.3,427.8 1424.9,432.8 1426.6,437.8 1428.2,442.8 1429.9,447.9 1431.5,453 1433.1,458.1 1434.8,463.2 1436.4,468.3 1438.1,473.5 1439.7,478.6 1441.3,483.8 1443,488.9 1444.6,494.1 1446.2,499.3 1447.9,504.5 1449.5,509.6 1451.2,514.8 1452.8,520 1454.4,525.2 1456.1,530.4 1457.7,535.6 1459.4,540.8 1461,546 1462.6,551.1 1464.3,556.3 1465.9,561.5 1467.5,566.6 1469.2,571.8 1470.8,576.9 1472.5,582 1474.1,587.1 1475.7,592.2 1477.4,597.3 1479,602.4 1480.7,607.4 1482.3,612.4 1483.9,617.5 1485.6,622.5 1487.2,627.4 1488.9,632.4 1490.5,637.3 1492.1,642.2 1493.8,647.1 1495.4,652 1497,656.8 1498.7,661.7 1500.3,666.4 1502,671.2 1503.6,675.9 1505.2,680.7 1506.9,685.3 1508.5,690 1510.2,694.6 1511.8,699.2 1513.4,703.8 1515.1,708.3 1516.7,712.8 1518.3,717.3 1520,721.7 1521.6,726.1 1523.3,730.5 1524.9,734.8 1526.5,739.1 1528.2,743.4 1529.8,747.6 1531.5,751.8 1533.1,756 1534.7,760.1 1536.4,764.2 1538,768.2 1539.6,772.3 1541.3,776.2 1542.9,780.2 1544.6,784.1 1546.2,787.9 1547.8,791.8 1549.5,795.5 1551.1,799.3 1552.8,803 1554.4,806.7 1556,810.3 1557.7,813.9 1559.3,817.4 1561,821 1562.6,824.4 1564.2,827.9 1565.9,831.3 1567.5,834.6 1569.1,837.9 1570.8,841.2 1572.4,844.4 1574.1,847.6 1575.7,850.8 1577.3,853.9 1579,857 1580.6,860 1582.3,863 1583.9,866 1585.5,868.9 1587.2,871.8 1588.8,874.6 1590.4,877.4 1592.1,880.2 1593.7,882.9 1595.4,885.6 1597,888.2 1598.6,890.9 1600.3,893.4 1601.9,896 1603.6,898.5 1605.2,900.9 1606.8,903.4 1608.5,905.7 1610.1,908.1 1611.7,910.4 1613.4,912.7 1615,914.9 1616.7,917.1 1618.3,919.3 1619.9,921.5 1621.6,923.6 1623.2,925.6 1624.9,927.7 1626.5,929.7 1628.1,931.6 1629.8,933.6 1631.4,935.5 1633,937.4 1634.7,939.2 1636.3,941 1638,942.8 1639.6,944.5 1641.2,946.2 1642.9,947.9 1644.5,949.6 1646.2,951.2 1647.8,952.8 1649.4,954.3 1651.1,955.9 1652.7,957.4 1654.4,958.9 1656,960.3 1657.6,961.7 1659.3,963.1 1660.9,964.5 1662.5,965.8 1664.2,967.2 1665.8,968.4 1667.5,969.7 1669.1,971 1670.7,972.2 1672.4,973.4 1674,974.5 1675.7,975.7 1677.3,976.8 1678.9,977.9 1680.6,979 1682.2,980 1683.8,981 1685.5,982 1687.1,983 1688.8,984 1690.4,984.9 1692,985.9 1693.7,986.8 1695.3,987.6 1697,988.5 1698.6,989.4 1700.2,990.2" marker-start="url(#moa)" marker-mid="url(#moa)" marker-end="url(#moa)"/>
<polyline points="1701.9,991 1703.5,991.8 1705.1,992.6 1706.8,993.3 1708.4,994 1710.1,994.8 1711.7,995.5 1713.3,996.2 1715,996.8 1716.6,997.5 1718.3,998.1 1719.9,998.8 1721.5,999.4 1723.2,1000 1724.8,1000.5 1726.4,1001.1 1728.1,1001.7 1729.7,1002.2 1731.4,1002.7 1733,1003.2 1734.6,1003.7 1736.3,1004.2 1737.9,1004.7 1739.6,1005.2 1741.2,1005.6 1742.8,1006.1 1744.5,1006.5 1746.1,1006.9 1747.8,1007.3 1749.4,1007.7 1751,1008.1 1752.7,1008.5 1754.3,1008.9 1755.9,1009.2 1757.6,1009.6 1759.2,1009.9 1760.9,1010.2 1762.5,1010.6 1764.1,1010.9 1765.8,1011.2 1767.4,1011.5 1769.1,1011.8 1770.7,1012 1772.3,1012.3 1774,1012.6 1775.6,1012.8 1777.2,1013.1 1778.9,1013.3 1780.5,1013.6 1782.2,1013.8 1783.8,1014 1785.4,1014.2 1787.1,1014.5 1788.7,1014.7 1790.4,1014.9 1792,1015.1 1793.6,1015.2 1795.3,1015.4 1796.9,1015.6 1798.5,1015.8 1800.2,1015.9 1801.8,1016.1 1803.5,1016.3 1805.1,1016.4 1806.7,1016.6 1808.4,1016.7 1810,1016.8 1811.7,1017 1813.3,1017.1 1814.9,1017.2 1816.6,1017.4 1818.2,1017.5 1819.8,1017.6 1821.5,1017.7 1823.1,1017.8 1824.8,1017.9 1826.4,1018 1828,1018.1 1829.7,1018.2 1831.3,1018.3 1833,1018.4 1834.6,1018.5 1836.2,1018.6 1837.9,1018.7 1839.5,1018.7 1841.2,1018.8 1842.8,1018.9 1844.4,1019 1846.1,1019 1847.7,1019.1 1849.3,1019.2 1851,1019.2 1852.6,1019.3 1854.3,1019.3 1855.9,1019.4 1857.5,1019.4 1859.2,1019.5 1860.8,1019.5 1862.5,1019.6 1864.1,1019.6 1865.7,1019.7 1867.4,1019.7 1869,1019.8 1870.6,1019.8 1872.3,1019.9 1873.9,1019.9 1875.6,1019.9 1877.2,1020 1878.8,1020 1880.5,1020 1882.1,1020.1 1883.8,1020.1 1885.4,1020.1 1887,1020.2 1888.7,1020.2 1890.3,1020.2 1891.9,1020.2 1893.6,1020.3 1895.2,1020.3 1896.9,1020.3 1898.5,1020.3 1900.1,1020.4 1901.8,1020.4 1903.4,1020.4 1905.1,1020.4 1906.7,1020.4 1908.3,1020.5 1910,1020.5 1911.6,1020.5 1913.2,1020.5 1914.9,1020.5 1916.5,1020.5 1918.2,1020.6 1919.8,1020.6 1921.4,1020.6 1923.1,1020.6 1924.7,1020.6 1926.4,1020.6 1928,1020.6 1929.6,1020.6 1931.3,1020.7 1932.9,1020.7 1934.6,1020.7 1936.2,1020.7 1937.8,1020.7 1939.5,1020.7 1941.1,1020.7 1942.7,1020.7 1944.4,1020.7 1946,1020.7 1947.7,1020.7 1949.3,1020.7 1950.9,1020.8 1952.6,1020.8 1954.2,1020.8 1955.9,1020.8 1957.5,1020.8 1959.1,1020.8 1960.8,1020.8 1962.4,1020.8 1964,1020.8 1965.7,1020.8 1967.3,1020.8 1969,1020.8 1970.6,1020.8 1972.2,1020.8 1973.9,1020.8 1975.5,1020.8 1977.2,1020.8 1978.8,1020.8 1980.4,1020.8 1982.1,1020.8 1983.7,1020.8 1985.3,1020.8 1987,1020.8 1988.6,1020.8 1990.3,1020.8 1991.9,1020.9 1993.5,1020.9 1995.2,1020.9 1996.8,1020.9 1998.5,1020.9 2000.1,1020.9 2001.7,1020.9 2003.4,1020.9 2005,1020.9 2006.6,1020.9 2008.3,1020.9 2009.9,1020.9 2011.6,1020.9 2013.2,1020.9 2014.8,1020.9 2016.5,1020.9 2018.1,1020.9 2019.8,1020.9 2021.4,1020.9 2023,1020.9 2024.7,1020.9 2026.3,1020.9 2028,1020.9 2029.6,1020.9 2031.2,1020.9 2032.9,1020.9 2034.5,1020.9 2036.1,1020.9 2037.8,1020.9 2039.4,1020.9 2041.1,1020.9 2042.7,1020.9 2044.3,1020.9 2046,1020.9 2047.6,1020.9 2049.3,1020.9 2050.9,1020.9 2052.5,1020.9 2054.2,1020.9 2055.8,1020.9 2057.4,1020.9 2059.1,1020.9 2060.7,1020.9 2062.4,1020.9 2064,1020.9 2065.6,1020.9 2067.3,1020.9 2068.9,1020.9 2070.6,1020.9 2072.2,1020.9 2073.8,1020.9 2075.5,1020.9 2077.1,1020.9 2078.7,1020.9 2080.4,1020.9 2082,1020.9 2083.7,1020.9 2085.3,1020.9 2086.9,1020.9 2088.6,1020.9 2090.2,1020.9 2091.9,1020.9 2093.5,1020.9 2095.1,1020.9 2096.8,1020.9 2098.4,1020.9 2100,1020.9 2101.7,1020.9 2103.3,1020.9 2105,1020.9 2106.6,1020.9 2108.2,1020.9 2109.9,1020.9 2111.5,1020.9 2113.2,1020.9 2114.8,1020.9 2116.4,1020.9 2118.1,1020.9 2119.7,1020.9 2121.4,1020.9 2123,1020.9 2124.6,1020.9 2126.3,1020.9 2127.9,1020.9 2129.5,1020.9 2131.2,1020.9 2132.8,1020.9 2134.5,1020.9 2136.1,1020.9 2137.7,1020.9 2139.4,1020.9 2141,1020.9 2142.7,1020.9 2144.3,1020.9 2145.9,1020.9 2147.6,1020.9 2149.2,1020.9 2150.8,1020.9 2152.5,1020.9 2154.1,1020.9 2155.8,1020.9 2157.4,1020.9 2159,1020.9 2160.7,1020.9 2162.3,1020.9 2164,1020.9 2165.6,1020.9 2167.2,1020.9 2168.9,1020.9 2170.5,1020.9 2172.1,1020.9 2173.8,1020.9 2175.4,1020.9 2177.1,1020.9 2178.7,1020.9 2180.3,1020.9 2182,1020.9 2183.6,1020.9 2185.3,1020.9 2186.9,1020.9 2188.5,1020.9 2190.2,1020.9 2191.8,1020.9 2193.4,1020.9 2195.1,1020.9 2196.7,1020.9 2198.4,1020.9 2200,1020.9 2201.6,1020.9 2203.3,1020.9 2204.9,1020.9 2206.6,1020.9 2208.2,1020.9 2209.8,1020.9 2211.5,1020.9 2213.1,1020.9 2214.8,1020.9 2216.4,1020.9 2218,1020.9 2219.7,1020.9 2221.3,1020.9 2222.9,1020.9 2224.6,1020.9 2226.2,1020.9 2227.9,1020.9 2229.5,1020.9 2231.1,1020.9 2232.8,1020.9 2234.4,1020.9 2236.1,1020.9 2237.7,1020.9 2239.3,1020.9 2241,1020.9 2242.6,1020.9 2244.2,1020.9 2245.9,1020.9 2247.5,1020.9 2249.2,1020.9 2250.8,1020.9 2252.4,1020.9 2254.1,1020.9 2255.7,1020.9 2257.4,1020.9 2259,1020.9 2260.6,1020.9 2262.3,1020.9 2263.9,1020.9 2265.5,1020.9 2267.2,1020.9 2268.8,1020.9 2270.5,1020.9 2272.1,1020.9 2273.7,1020.9 2275.4,1020.9 2277,1020.9 2278.7,1020.9 2280.3,1020.9 2281.9,1020.9 2283.6,1020.9 2285.2,1020.9 2286.8,1020.9 2288.5,1020.9 2290.1,1020.9 2291.8,1020.9 2293.4,1020.9 2295,1020.9 2296.7,1020.9 2298.3,1020.9" marker-start="url(#mob)" marker-mid="url(#mob)" marker-end="url(#mob)"/>
<polyline points="168.1,1020.9 169.8,1020.9 171.4,1020.9 173.1,1020.9 174.7,1020.9 176.3,1020.9 178,1020.9 179.6,1020.9 181.2,1020.9 182.9,1020.9 184.5,1020.9 186.2,1020.9 187.8,1020.9 189.4,1020.9 191.1,1020.9 192.7,1020.9 194.4,1020.9 196,1020.9 197.6,1020.9 199.3,1020.9 200.9,1020.9 202.6,1020.9 204.2,1020.9 205.8,1020.9 207.5,1020.9 209.1,1020.9 210.7,1020.9 212.4,1020.9 214,1020.9 215.7,1020.9 217.3,1020.9 218.9,1020.9 220.6,1020.9 222.2,1020.9 223.9,1020.9 225.5,1020.9 227.1,1020.9 228.8,1020.9 230.4,1020.9 232,1020.9 233.7,1020.9 235.3,1020.9 237,1020.9 238.6,1020.9 240.2,1020.9 241.9,1020.9 243.5,1020.9 245.2,1020.9 246.8,1020.9 248.4,1020.9 250.1,1020.9 251.7,1020.9 253.3,1020.9 255,1020.9 256.6,1020.9 258.3,1020.9 259.9,1020.9 261.5,1020.9 263.2,1020.9 264.8,1020.9 266.5,1020.9 268.1,1020.9 269.7,1020.9 271.4,1020.9 273,1020.9 274.6,1020.9 276.3,1020.9 277.9,1020.9 279.6,1020.9 281.2,1020.9 282.8,1020.9 284.5,1020.9 286.1,1020.9 287.8,1020.9 289.4,1020.9 291,1020.9 292.7,1020.9 294.3,1020.9 296,1020.9 297.6,1020.9 299.2,1020.9 300.9,1020.9 302.5,1020.9 304.1,1020.9 305.8,1020.9 307.4,1020.9 309.1,1020.9 310.7,1020.9 312.3,1020.9 314,1020.9 315.6,1020.9 317.3,1020.9 318.9,1020.9 320.5,1020.9 322.2,1020.9 323.8,1020.9 325.4,1020.9 327.1,1020.9 328.7,1020.9 330.4,1020.9 332,1020.9 333.6,1020.9 335.3,1020.9 336.9,1020.9 338.6,1020.9 340.2,1020.9 341.8,1020.9 343.5,1020.9 345.1,1020.9 346.7,1020.9 348.4,1020.9 350,1020.9 351.7,1020.9 353.3,1020.9 354.9,1020.9 356.6,1020.9 358.2,1020.9 359.9,1020.9 361.5,1020.9 363.1,1020.9 364.8,1020.9 366.4,1020.9 368,1020.9 369.7,1020.9 371.3,1020.9 373,1020.9 374.6,1020.9 376.2,1020.9 377.9,1020.9 379.5,1020.9 381.2,1020.9 382.8,1020.9 384.4,1020.9 386.1,1020.9 387.7,1020.9 389.4,1020.9 391,1020.9 392.6,1020.9 394.3,1020.9 395.9,1020.9 397.5,1020.9 399.2,1020.9 400.8,1020.9 402.5,1020.9 404.1,1020.9 405.7,1020.9 407.4,1020.9 409,1020.9 410.7,1020.9 412.3,1020.9 413.9,1020.9 415.6,1020.9 417.2,1020.9 418.8,1020.9 420.5,1020.9 422.1,1020.9 423.8,1020.9 425.4,1020.9 427,1020.9 428.7,1020.9 430.3,1020.9 432,1020.9 433.6,1020.9 435.2,1020.9 436.9,1020.9 438.5,1020.9 440.1,1020.9 441.8,1020.9 443.4,1020.9 445.1,1020.9 446.7,1020.9 448.3,1020.9 450,1020.9 451.6,1020.9 453.3,1020.9 454.9,1020.9 456.5,1020.9 458.2,1020.9 459.8,1020.9 461.4,1020.9 463.1,1020.9 464.7,1020.9 466.4,1020.9 468,1020.9 469.6,1020.9 471.3,1020.9 472.9,1020.9 474.6,1020.9 476.2,1020.9 477.8,1020.9 479.5,1020.9 481.1,1020.9 482.8,1020.9 484.4,1020.9 486,1020.9 487.7,1020.9 489.3,1020.9 490.9,1020.9 492.6,1020.9 494.2,1020.9 495.9,1020.9 497.5,1020.9 499.1,1020.9 500.8,1020.9 502.4,1020.9 504.1,1020.9 505.7,1020.9 507.3,1020.9 509,1020.9 510.6,1020.9 512.2,1020.9 513.9,1020.9 515.5,1020.9 517.2,1020.9 518.8,1020.9 520.4,1020.9 522.1,1020.9 523.7,1020.9 525.4,1020.9 527,1020.9 528.6,1020.9 530.3,1020.9 531.9,1020.9 533.5,1020.9 535.2,1020.9 536.8,1020.9 538.5,1020.9 540.1,1020.9 541.7,1020.9 543.4,1020.9 545,1020.9 546.7,1020.9 548.3,1020.9 549.9,1020.9 551.6,1020.9 553.2,1020.9 554.8,1020.9 556.5,1020.9 558.1,1020.9 559.8,1020.9 561.4,1020.9 563,1020.9 564.7,1020.9 566.3,1020.9 568,1020.9 569.6,1020.9 571.2,1020.9 572.9,1020.9 574.5,1020.9 576.2,1020.9 577.8,1020.9 579.4,1020.9 581.1,1020.9 582.7,1020.9 584.3,1020.9 586,1020.9 587.6,1020.9 589.3,1020.9 590.9,1020.9 592.5,1020.9 594.2,1020.9 595.8,1020.9 597.5,1020.9 599.1,1020.9 600.7,1020.9 602.4,1020.9 604,1020.9 605.6,1020.9 607.3,1020.9 608.9,1020.9 610.6,1020.9 612.2,1020.9 613.8,1020.9 615.5,1020.9 617.1,1020.9 618.8,1020.9 620.4,1020.9 622,1020.9 623.7,1020.9 625.3,1020.9 626.9,1020.9 628.6,1020.9 630.2,1020.9 631.9,1020.9 633.5,1020.9 635.1,1020.9 636.8,1020.9 638.4,1020.9 640.1,1020.9 641.7,1020.9 643.3,1020.9 645,1020.9 646.6,1020.9 648.2,1020.9 649.9,1020.9 651.5,1020.9 653.2,1020.9 654.8,1020.9 656.4,1020.9 658.1,1020.9 659.7,1020.9 661.4,1020.9 663,1020.9 664.6,1020.9 666.3,1020.9 667.9,1020.9 669.6,1020.9 671.2,1020.9 672.8,1020.9 674.5,1020.9 676.1,1020.9 677.7,1020.9 679.4,1020.9 681,1020.9 682.7,1020.9 684.3,1020.9 685.9,1020.9 687.6,1020.9 689.2,1020.9 690.9,1020.9 692.5,1020.9 694.1,1020.9 695.8,1020.9 697.4,1020.9 699,1020.9 700.7,1020.9 702.3,1020.9 704,1020.9 705.6,1020.9 707.2,1020.9 708.9,1020.9 710.5,1020.9 712.2,1020.9 713.8,1020.9 715.4,1020.9 717.1,1020.9 718.7,1020.9 720.3,1020.9 722,1020.9 723.6,1020.9 725.3,1020.9 726.9,1020.9 728.5,1020.9 730.2,1020.9 731.8,1020.9 733.5,1020.9 735.1,1020.9 736.7,1020.9 738.4,1020.9 740,1020.9 741.7,1020.9 743.3,1020.9 744.9,1020.9 746.6,1020.9 748.2,1020.9 749.8,1020.9 751.5,1020.9 753.1,1020.9 754.8,1020.9 756.4,1020.9 758,1020.9 759.7,1020.9 761.3,1020.9 763,1020.9 764.6,1020.9 766.2,1020.9 767.9,1020.9 769.5,1020.9 771.1,1020.9 772.8,1020.9 774.4,1020.9 776.1,1020.9 777.7,1020.9 779.3,1020.9 781,1020.9 782.6,1020.9 784.3,1020.9 785.9,1020.9 787.5,1020.9 789.2,1020.9 790.8,1020.9 792.4,1020.9 794.1,1020.9 795.7,1020.9 797.4,1020.9 799,1020.9 800.6,1020.9 802.3,1020.9 803.9,1020.9 805.6,1020.9 807.2,1020.9 808.8,1020.9 810.5,1020.9 812.1,1020.9 813.7,1020.9 815.4,1020.9 817,1020.9 818.7,1020.9 820.3,1020.9 821.9,1020.9 823.6,1020.9 825.2,1020.9 826.9,1020.9 828.5,1020.9 830.1,1020.9 831.8,1020.9 833.4,1020.9 835.1,1020.9 836.7,1020.9 838.3,1020.9 840,1020.9 841.6,1020.9 843.2,1020.9 844.9,1020.9 846.5,1020.9 848.2,1020.9 849.8,1020.9 851.4,1020.9 853.1,1020.9 854.7,1020.9 856.4,1020.9 858,1020.9 859.6,1020.9 861.3,1020.9 862.9,1020.9 864.5,1020.9 866.2,1020.9 867.8,1020.9 869.5,1020.9 871.1,1020.9 872.7,1020.9 874.4,1020.9 876,1020.9 877.7,1020.9 879.3,1020.9 880.9,1020.9 882.6,1020.9 884.2,1020.9 885.8,1020.9 887.5,1020.9 889.1,1020.9 890.8,1020.9 892.4,1020.9 894,1020.9 895.7,1020.9 897.3,1020.9 899,1020.9 900.6,1020.9 902.2,1020.9 903.9,1020.9 905.5,1020.9 907.1,1020.9 908.8,1020.9 910.4,1020.9 912.1,1020.9 913.7,1020.9 915.3,1020.9 917,1020.9 918.6,1020.9 920.3,1020.9 921.9,1020.9 923.5,1020.9 925.2,1020.9 926.8,1020.9 928.5,1020.9 930.1,1020.9 931.7,1020.9 933.4,1020.9 935,1020.9 936.6,1020.9 938.3,1020.9 939.9,1020.9 941.6,1020.9 943.2,1020.9 944.8,1020.9 946.5,1020.9 948.1,1020.9 949.8,1020.9 951.4,1020.9 953,1020.9 954.7,1020.9 956.3,1020.9 957.9,1020.9 959.6,1020.9 961.2,1020.9 962.9,1020.9 964.5,1020.9 966.1,1020.9 967.8,1020.9 969.4,1020.9 971.1,1020.9 972.7,1020.9 974.3,1020.9 976,1020.9 977.6,1020.9 979.2,1020.9 980.9,1020.9 982.5,1020.9 984.2,1020.9 985.8,1020.9 987.4,1020.9 989.1,1020.9 990.7,1020.9 992.4,1020.9 994,1020.9 995.6,1020.9 997.3,1020.9 998.9,1020.9 1000.5,1020.9 1002.2,1020.9 1003.8,1020.9 1005.5,1020.9 1007.1,1020.9 1008.7,1020.9 1010.4,1020.9 1012,1020.9 1013.7,1020.9 1015.3,1020.9 1016.9,1020.9 1018.6,1020.9 1020.2,1020.9 1021.9,1020.9 1023.5,1020.9 1025.1,1020.9 1026.8,1020.9 1028.4,1020.9 1030,1020.9 1031.7,1020.9 1033.3,1020.9 1035,1020.9 1036.6,1020.9 1038.2,1020.9 1039.9,1020.9 1041.5,1020.9 1043.2,1020.9 1044.8,1020.9 1046.4,1020.9 1048.1,1020.9 1049.7,1020.9 1051.3,1020.9 1053,1020.9 1054.6,1020.9 1056.3,1020.9 1057.9,1020.9 1059.5,1020.9 1061.2,1020.9 1062.8,1020.9 1064.5,1020.9 1066.1,1020.9 1067.7,1020.9 1069.4,1020.9 1071,1020.9 1072.6,1020.9 1074.3,1020.9 1075.9,1020.9 1077.6,1020.9 1079.2,1020.9 1080.8,1020.9 1082.5,1020.9 1084.1,1020.9 1085.8,1020.9 1087.4,1020.9 1089,1020.9 1090.7,1020.9 1092.3,1020.9 1093.9,1020.9 1095.6,1020.9 1097.2,1020.9 1098.9,1020.9 1100.5,1020.9 1102.1,1020.9 1103.8,1020.9 1105.4,1020.9 1107.1,1020.9 1108.7,1020.9 1110.3,1020.9 1112,1020.9 1113.6,1020.9 1115.3,1020.9 1116.9,1020.9 1118.5,1020.9 1120.2,1020.9 1121.8,1020.9 1123.4,1020.9 1125.1,1020.9 1126.7,1020.9 1128.4,1020.9 1130,1020.9 1131.6,1020.9 1133.3,1020.9 1134.9,1020.9 1136.6,1020.9 1138.2,1020.9 1139.8,1020.9 1141.5,1020.9 1143.1,1020.9 1144.7,1020.9 1146.4,1020.9 1148,1020.9 1149.7,1020.9 1151.3,1020.9 1152.9,1020.9 1154.6,1020.9 1156.2,1020.9 1157.9,1020.9 1159.5,1020.9 1161.1,1020.9 1162.8,1020.9 1164.4,1020.9 1166,1020.9 1167.7,1020.9 1169.3,1020.9 1171,1020.9 1172.6,1020.9 1174.2,1020.9 1175.9,1020.9 1177.5,1020.9 1179.2,1020.9 1180.8,1020.9 1182.4,1020.9 1184.1,1020.9 1185.7,1020.9 1187.3,1020.9 1189,1020.9 1190.6,1020.9 1192.3,1020.9 1193.9,1020.9 1195.5,1020.9 1197.2,1020.9 1198.8,1020.9 1200.5,1020.9 1202.1,1020.9 1203.7,1020.9 1205.4,1020.9 1207,1020.9 1208.7,1020.9 1210.3,1020.8 1211.9,1020.8 1213.6,1020.8 1215.2,1020.8 1216.8,1020.8 1218.5,1020.8 1220.1,1020.8 1221.8,1020.8 1223.4,1020.8 1225,1020.8 1226.7,1020.8 1228.3,1020.8 1230,1020.8 1231.6,1020.8 1233.2,1020.8 1234.9,1020.8 1236.5,1020.8 1238.1,1020.8 1239.8,1020.8 1241.4,1020.8 1243.1,1020.7 1244.7,1020.7 1246.3,1020.7 1248,1020.7 1249.6,1020.7 1251.3,1020.7 1252.9,1020.7 1254.5,1020.7 1256.2,1020.7 1257.8,1020.6 1259.4,1020.6 1261.1,1020.6 1262.7,1020.6 1264.4,1020.6 1266,1020.6 1267.6,1020.6 1269.3,1020.5 1270.9,1020.5 1272.6,1020.5 1274.2,1020.5 1275.8,1020.5 1277.5,1020.4 1279.1,1020.4 1280.7,1020.4 1282.4,1020.4 1284,1020.3 1285.7,1020.3 1287.3,1020.3 1288.9,1020.2 1290.6,1020.2 1292.2,1020.2 1293.9,1020.1 1295.5,1020.1 1297.1,1020.1 1298.8,1020 1300.4,1020 1302.1,1019.9 1303.7,1019.9 1305.3,1019.8 1307,1019.8 1308.6,1019.7 1310.2,1019.7 1311.9,1019.6 1313.5,1019.6 1315.2,1019.5 1316.8,1019.4 1318.4,1019.4 1320.1,1019.3 1321.7,1019.2 1323.4,1019.2 1325,1019.1 1326.6,1019 1328.3,1018.9 1329.9,1018.8 1331.5,1018.7 1333.2,1018.6 1334.8,1018.5 1336.5,1018.4 1338.1,1018.3 1339.7,1018.2 1341.4,1018.1 1343,1018 1344.7,1017.8 1346.3,1017.7 1347.9,1017.6 1349.6,1017.4 1351.2,1017.3 1352.8,1017.1 1354.5,1016.9 1356.1,1016.8 1357.8,1016.6 1359.4,1016.4 1361,1016.2 1362.7,1016 1364.3,1015.8 1366,1015.6 1367.6,1015.4 1369.2,1015.2 1370.9,1015 1372.5,1014.7 1374.1,1014.5 1375.8,1014.2 1377.4,1013.9 1379.1,1013.7 1380.7,1013.4 1382.3,1013.1 1384,1012.8 1385.6,1012.4 1387.3,1012.1 1388.9,1011.8 1390.5,1011.4 1392.2,1011.1 1393.8,1010.7 1395.5,1010.3 1397.1,1009.9 1398.7,1009.5 1400.4,1009 1402,1008.6 1403.6,1008.1 1405.3,1007.7 1406.9,1007.2 1408.6,1006.7 1410.2,1006.1 1411.8,1005.6 1413.5,1005.1 1415.1,1004.5 1416.8,1003.9 1418.4,1003.3 1420,1002.7 1421.7,1002 1423.3,1001.4 1424.9,1000.7 1426.6,1000 1428.2,999.2 1429.9,998.5 1431.5,997.7" marker-start="url(#mpb)" marker-mid="url(#mpb)" marker-end="url(#mpb)"/>
<polyline points="1433.1,996.9 1434.8,996.1 1436.4,995.3 1438.1,994.4 1439.7,993.5 1441.3,992.6 1443,991.7 1444.6,990.7 1446.2,989.8 1447.9,988.7 1449.5,987.7 1451.2,986.6 1452.8,985.5 1454.4,984.4 1456.1,983.3 1457.7,982.1 1459.4,980.9 1461,979.6 1462.6,978.3 1464.3,977 1465.9,975.7 1467.5,974.3 1469.2,972.9 1470.8,971.5 1472.5,970 1474.1,968.5 1475.7,966.9 1477.4,965.4 1479,963.7 1480.7,962.1 1482.3,960.4 1483.9,958.6 1485.6,956.9 1487.2,955.1 1488.9,953.2 1490.5,951.3 1492.1,949.4 1493.8,947.4 1495.4,945.4 1497,943.3 1498.7,941.2 1500.3,939.1 1502,936.9 1503.6,934.7 1505.2,932.4 1506.9,930.1 1508.5,927.7 1510.2,925.3 1511.8,922.9 1513.4,920.4 1515.1,917.8 1516.7,915.2 1518.3,912.6 1520,909.9 1521.6,907.2 1523.3,904.4 1524.9,901.6 1526.5,898.7 1528.2,895.8 1529.8,892.8 1531.5,889.8 1533.1,886.7 1534.7,883.6 1536.4,880.4 1538,877.2 1539.6,874 1541.3,870.7 1542.9,867.3 1544.6,863.9 1546.2,860.4 1547.8,856.9 1549.5,853.4 1551.1,849.8 1552.8,846.2 1554.4,842.5 1556,838.7 1557.7,834.9 1559.3,831.1 1561,827.2 1562.6,823.3 1564.2,819.3 1565.9,815.3 1567.5,811.3 1569.1,807.2 1570.8,803 1572.4,798.8 1574.1,794.6 1575.7,790.3 1577.3,786 1579,781.7 1580.6,777.3 1582.3,772.8 1583.9,768.4 1585.5,763.9 1587.2,759.3 1588.8,754.8 1590.4,750.2 1592.1,745.5 1593.7,740.8 1595.4,736.1 1597,731.4 1598.6,726.6 1600.3,721.9 1601.9,717 1603.6,712.2 1605.2,707.3 1606.8,702.5 1608.5,697.6 1610.1,692.6 1611.7,687.7 1613.4,682.7 1615,677.7 1616.7,672.8 1618.3,667.8 1619.9,662.7 1621.6,657.7 1623.2,652.7 1624.9,647.7 1626.5,642.6 1628.1,637.6 1629.8,632.5 1631.4,627.5 1633,622.4 1634.7,617.4 1636.3,612.4 1638,607.4 1639.6,602.3 1641.2,597.3 1642.9,592.4 1644.5,587.4 1646.2,582.4 1647.8,577.5 1649.4,572.6 1651.1,567.7 1652.7,562.8 1654.4,558 1656,553.2 1657.6,548.4 1659.3,543.6 1660.9,538.9 1662.5,534.2 1664.2,529.6 1665.8,525 1667.5,520.4 1669.1,515.9 1670.7,511.4 1672.4,507 1674,502.6 1675.7,498.3 1677.3,494.1 1678.9,489.8 1680.6,485.7 1682.2,481.6 1683.8,477.6 1685.5,473.6 1687.1,469.7 1688.8,465.9 1690.4,462.1 1692,458.4 1693.7,454.8 1695.3,451.2 1697,447.7 1698.6,444.3 1700.2,441 1701.9,437.8 1703.5,434.6 1705.1,431.5 1706.8,428.6 1708.4,425.6 1710.1,422.8 1711.7,420.1 1713.3,417.5 1715,414.9 1716.6,412.5 1718.3,410.1 1719.9,407.8 1721.5,405.7 1723.2,403.6 1724.8,401.6 1726.4,399.8 1728.1,398 1729.7,396.3 1731.4,394.8 1733,393.3 1734.6,391.9 1736.3,390.7 1737.9,389.5 1739.6,388.5 1741.2,387.6" marker-start="url(#mpa)" marker-mid="url(#mpa)" marker-end="url(#mpa)"/>
<polyline points="1742.8,386.7 1744.5,386 1746.1,385.4 1747.8,384.9 1749.4,384.5 1751,384.2 1752.7,384 1754.3,383.9 1755.9,383.9 1757.6,384.1 1759.2,384.3 1760.9,384.7 1762.5,385.2 1764.1,385.7 1765.8,386.4" marker-start="url(#mpb)" marker-mid="url(#mpb)" marker-end="url(#mpb)"/>
<polyline points="1767.4,387.2 1769.1,388.1 1770.7,389.1 1772.3,390.2 1774,391.4 1775.6,392.7 1777.2,394.2 1778.9,395.7 1780.5,397.3 1782.2,399.1 1783.8,400.9 1785.4,402.8 1787.1,404.8 1788.7,407 1790.4,409.2 1792,411.5 1793.6,413.9 1795.3,416.4 1796.9,419 1798.5,421.7 1800.2,424.5 1801.8,427.4 1803.5,430.3 1805.1,433.4 1806.7,436.5 1808.4,439.7 1810,443 1811.7,446.4 1813.3,449.8 1814.9,453.3 1816.6,456.9 1818.2,460.6 1819.8,464.3 1821.5,468.2 1823.1,472 1824.8,476 1826.4,480 1828,484 1829.7,488.2 1831.3,492.4 1833,496.6 1834.6,500.9 1836.2,505.3 1837.9,509.7 1839.5,514.1 1841.2,518.6 1842.8,523.1 1844.4,527.7 1846.1,532.4 1847.7,537 1849.3,541.7 1851,546.5 1852.6,551.2 1854.3,556 1855.9,560.9 1857.5,565.7 1859.2,570.6 1860.8,575.5 1862.5,580.4 1864.1,585.4 1865.7,590.4 1867.4,595.3 1869,600.3 1870.6,605.4 1872.3,610.4 1873.9,615.4 1875.6,620.4 1877.2,625.5 1878.8,630.5 1880.5,635.6 1882.1,640.6 1883.8,645.6 1885.4,650.7 1887,655.7 1888.7,660.7 1890.3,665.8 1891.9,670.8 1893.6,675.8 1895.2,680.7 1896.9,685.7 1898.5,690.7 1900.1,695.6 1901.8,700.5 1903.4,705.4 1905.1,710.3 1906.7,715.1 1908.3,719.9 1910,724.7 1911.6,729.5 1913.2,734.2 1914.9,739 1916.5,743.6 1918.2,748.3 1919.8,752.9 1921.4,757.5 1923.1,762.1 1924.7,766.6 1926.4,771.1 1928,775.5 1929.6,779.9 1931.3,784.3 1932.9,788.6 1934.6,792.9 1936.2,797.1 1937.8,801.3 1939.5,805.5 1941.1,809.6 1942.7,813.7 1944.4,817.7 1946,821.7 1947.7,825.7 1949.3,829.6 1950.9,833.4 1952.6,837.2 1954.2,841 1955.9,844.7 1957.5,848.3 1959.1,852 1960.8,855.5 1962.4,859.1 1964,862.5 1965.7,866 1967.3,869.3 1969,872.7 1970.6,875.9 1972.2,879.2 1973.9,882.4 1975.5,885.5 1977.2,888.6 1978.8,891.6 1980.4,894.6 1982.1,897.5 1983.7,900.4 1985.3,903.3 1987,906.1 1988.6,908.8 1990.3,911.5 1991.9,914.2 1993.5,916.8 1995.2,919.4 1996.8,921.9 1998.5,924.4 2000.1,926.8 2001.7,929.2 2003.4,931.5 2005,933.8 2006.6,936 2008.3,938.2 2009.9,940.4 2011.6,942.5 2013.2,944.6 2014.8,946.6 2016.5,948.6 2018.1,950.6 2019.8,952.5 2021.4,954.3 2023,956.2 2024.7,957.9 2026.3,959.7 2028,961.4 2029.6,963.1 2031.2,964.7 2032.9,966.3 2034.5,967.9 2036.1,969.4 2037.8,970.9 2039.4,972.3 2041.1,973.8 2042.7,975.2 2044.3,976.5 2046,977.8 2047.6,979.1 2049.3,980.4 2050.9,981.6 2052.5,982.8 2054.2,984 2055.8,985.1 2057.4,986.2 2059.1,987.3 2060.7,988.3 2062.4,989.4 2064,990.4 2065.6,991.3 2067.3,992.3 2068.9,993.2 2070.6,994.1 2072.2,994.9 2073.8,995.8 2075.5,996.6" marker-start="url(#mpa)" marker-mid="url(#mpa)" marker-end="url(#mpa)"/>
<polyline points="2077.1,997.4 2078.7,998.2 2080.4,998.9 2082,999.7 2083.7,1000.4 2085.3,1001.1 2086.9,1001.8 2088.6,1002.4 2090.2,1003 2091.9,1003.7 2093.5,1004.2 2095.1,1004.8 2096.8,1005.4 2098.4,1005.9 2100,1006.5 2101.7,1007 2103.3,1007.5 2105,1007.9 2106.6,1008.4 2108.2,1008.9 2109.9,1009.3 2111.5,1009.7 2113.2,1010.1 2114.8,1010.5 2116.4,1010.9 2118.1,1011.3 2119.7,1011.6 2121.4,1012 2123,1012.3 2124.6,1012.6 2126.3,1012.9 2127.9,1013.2 2129.5,1013.5 2131.2,1013.8 2132.8,1014.1 2134.5,1014.4 2136.1,1014.6 2137.7,1014.9 2139.4,1015.1 2141,1015.3 2142.7,1015.5 2144.3,1015.8 2145.9,1016 2147.6,1016.2 2149.2,1016.3 2150.8,1016.5 2152.5,1016.7 2154.1,1016.9 2155.8,1017 2157.4,1017.2 2159,1017.4 2160.7,1017.5 2162.3,1017.6 2164,1017.8 2165.6,1017.9 2167.2,1018 2168.9,1018.2 2170.5,1018.3 2172.1,1018.4 2173.8,1018.5 2175.4,1018.6 2177.1,1018.7 2178.7,1018.8 2180.3,1018.9 2182,1019 2183.6,1019 2185.3,1019.1 2186.9,1019.2 2188.5,1019.3 2190.2,1019.4 2191.8,1019.4 2193.4,1019.5 2195.1,1019.6 2196.7,1019.6 2198.4,1019.7 2200,1019.7 2201.6,1019.8 2203.3,1019.8 2204.9,1019.9 2206.6,1019.9 2208.2,1020 2209.8,1020 2211.5,1020.1 2213.1,1020.1 2214.8,1020.1 2216.4,1020.2 2218,1020.2 2219.7,1020.2 2221.3,1020.3 2222.9,1020.3 2224.6,1020.3 2226.2,1020.4 2227.9,1020.4 2229.5,1020.4 2231.1,1020.4 2232.8,1020.5 2234.4,1020.5 2236.1,1020.5 2237.7,1020.5 2239.3,1020.5 2241,1020.5 2242.6,1020.6 2244.2,1020.6 2245.9,1020.6 2247.5,1020.6 2249.2,1020.6 2250.8,1020.6 2252.4,1020.7 2254.1,1020.7 2255.7,1020.7 2257.4,1020.7 2259,1020.7 2260.6,1020.7 2262.3,1020.7 2263.9,1020.7 2265.5,1020.7 2267.2,1020.7 2268.8,1020.8 2270.5,1020.8 2272.1,1020.8 2273.7,1020.8 2275.4,1020.8 2277,1020.8 2278.7,1020.8 2280.3,1020.8 2281.9,1020.8 2283.6,1020.8 2285.2,1020.8 2286.8,1020.8 2288.5,1020.8 2290.1,1020.8 2291.8,1020.8 2293.4,1020.8 2295,1020.8 2296.7,1020.8 2298.3,1020.8" marker-start="url(#mpb)" marker-mid="url(#mpb)" marker-end="url(#mpb)"/>
</g>
<polyline points="168.1,1020.8 171.4,1020.8 174.7,1020.8 178,1020.8 181.2,1020.8 184.5,1020.8 187.8,1020.8 191.1,1020.8 194.4,1020.8 197.6,1020.8 200.9,1020.7 204.2,1020.7 207.5,1020.7 210.7,1020.7 214,1020.7 217.3,1020.7 220.6,1020.6 223.9,1020.6 227.1,1020.6 230.4,1020.6 233.7,1020.5 237,1020.5 240.2,1020.5 243.5,1020.4 246.8,1020.4 250.1,1020.3 253.3,1020.3 256.6,1020.2 259.9,1020.2 263.2,1020.1 266.5,1020 269.7,1020 273,1019.9 276.3,1019.8 279.6,1019.7 282.8,1019.6 286.1,1019.5 289.4,1019.4 292.7,1019.3 296,1019.1 299.2,1019 302.5,1018.9 305.8,1018.7 309.1,1018.5 312.3,1018.3 315.6,1018.1 318.9,1017.9 322.2,1017.7 325.4,1017.4 328.7,1017.2 332,1016.9 335.3,1016.6 338.6,1016.3 341.8,1016 345.1,1015.6 348.4,1015.2 351.7,1014.8 354.9,1014.4 358.2,1013.9 361.5,1013.4 364.8,1012.9 368,1012.4 371.3,1011.8 374.6,1011.1 377.9,1010.5 381.2,1009.8 384.4,1009 387.7,1008.3 391,1007.4 394.3,1006.6 397.5,1005.6 400.8,1004.7 404.1,1003.6 407.4,1002.5 410.7,1001.4 413.9,1000.2 417.2,998.9 420.5,997.6 423.8,996.2 427,994.7 430.3,993.1 433.6,991.5 436.9,989.8 440.1,988 443.4,986.1 446.7,984.2 450,982.1 453.3,979.9 456.5,977.7 459.8,975.3 463.1,972.8 466.4,970.3 469.6,967.6 472.9,964.8 476.2,961.8 479.5,958.8 482.8,955.6 486,952.3 489.3,948.9 492.6,945.3 495.9,941.6 499.1,937.7 502.4,933.7 505.7,929.6 509,925.3 512.2,920.9 515.5,916.3 518.8,911.5 522.1,906.6 525.4,901.5 528.6,896.2 531.9,890.8 535.2,885.2 538.5,879.5 541.7,873.5 545,867.4 548.3,861.1 551.6,854.7 554.8,848.1 558.1,841.2 561.4,834.2 564.7,827.1 568,819.7 571.2,812.2 574.5,804.5 577.8,796.6 581.1,788.6 584.3,780.3 587.6,772 590.9,763.4 594.2,754.7 597.5,745.8 600.7,736.7 604,727.5 607.3,718.2 610.6,708.7 613.8,699 617.1,689.2 620.4,679.3 623.7,669.3 626.9,659.1 630.2,648.9 633.5,638.5 636.8,628 640.1,617.5 643.3,606.8 646.6,596.1 649.9,585.3 653.2,574.4 656.4,563.5 659.7,552.6 663,541.6 666.3,530.6 669.6,519.6 672.8,508.6 676.1,497.7 679.4,486.7 682.7,475.8 685.9,464.9 689.2,454 692.5,443.3 695.8,432.6 699,422 702.3,411.5 705.6,401.1 708.9,390.9 712.2,380.8 715.4,370.8 718.7,361 722,351.4 725.3,342 728.5,332.7 731.8,323.7 735.1,314.9 738.4,306.3 741.7,298 744.9,289.9 748.2,282 751.5,274.5 754.8,267.2 758,260.2 761.3,253.5 764.6,247.1 767.9,241 771.1,235.3 774.4,229.9 777.7,224.8 781,220 784.3,215.6 787.5,211.6 790.8,207.9 794.1,204.5 797.4,201.6 800.6,199 803.9,196.7 807.2,194.9 810.5,193.4 813.7,192.2 817,191.5 820.3,191.1 823.6,191.1 826.9,191.4 830.1,192.1 833.4,193.2 836.7,194.6 840,196.4 843.2,198.5 846.5,200.9 849.8,203.7 853.1,206.8 856.4,210.3 859.6,214 862.9,218 866.2,222.3 869.5,226.9 872.7,231.8 876,236.9 879.3,242.3 882.6,247.9 885.8,253.8 889.1,259.8 892.4,266.1 895.7,272.5 899,279.1 902.2,285.9 905.5,292.8 908.8,299.8 912.1,307 915.3,314.3 918.6,321.6 921.9,329 925.2,336.5 928.5,344 931.7,351.6 935,359.1 938.3,366.7 941.6,374.2 944.8,381.7 948.1,389.2 951.4,396.6 954.7,403.9 957.9,411.2 961.2,418.3 964.5,425.3 967.8,432.2 971.1,439 974.3,445.6 977.6,452 980.9,458.3 984.2,464.3 987.4,470.2 990.7,475.8 994,481.2 997.3,486.4 1000.5,491.4 1003.8,496.1 1007.1,500.5 1010.4,504.7 1013.7,508.6 1016.9,512.2 1020.2,515.5 1023.5,518.5 1026.8,521.3 1030,523.7 1033.3,525.8 1036.6,527.6 1039.9,529.1 1043.2,530.3 1046.4,531.1 1049.7,531.7 1053,531.9 1056.3,531.8 1059.5,531.4 1062.8,530.6 1066.1,529.6 1069.4,528.2 1072.6,526.6 1075.9,524.6 1079.2,522.3 1082.5,519.7 1085.8,516.8 1089,513.7 1092.3,510.2 1095.6,506.5 1098.9,502.5 1102.1,498.2 1105.4,493.7 1108.7,489 1112,484 1115.3,478.8 1118.5,473.4 1121.8,467.7 1125.1,461.9 1128.4,455.9 1131.6,449.7 1134.9,443.3 1138.2,436.8 1141.5,430.2 1144.7,423.4 1148,416.6 1151.3,409.6 1154.6,402.5 1157.9,395.3 1161.1,388.1 1164.4,380.9 1167.7,373.6 1171,366.2 1174.2,358.9 1177.5,351.6 1180.8,344.3 1184.1,337 1187.3,329.8 1190.6,322.6 1193.9,315.5 1197.2,308.4 1200.5,301.5 1203.7,294.7 1207,288 1210.3,281.4 1213.6,275 1216.8,268.7 1220.1,262.6 1223.4,256.7 1226.7,251 1230,245.4 1233.2,240.1 1236.5,235 1239.8,230.2 1243.1,225.6 1246.3,221.2 1249.6,217.1 1252.9,213.3 1256.2,209.7 1259.4,206.4 1262.7,203.5 1266,200.8 1269.3,198.4 1272.6,196.3 1275.8,194.5 1279.1,193 1282.4,191.9 1285.7,191 1288.9,190.5 1292.2,190.4 1295.5,190.5 1298.8,191 1302.1,191.8 1305.3,192.9 1308.6,194.4 1311.9,196.1 1315.2,198.2 1318.4,200.7 1321.7,203.4 1325,206.4 1328.3,209.8 1331.5,213.5 1334.8,217.5 1338.1,221.7 1341.4,226.3 1344.7,231.1 1347.9,236.2 1351.2,241.6 1354.5,247.3 1357.8,253.2 1361,259.3 1364.3,265.7 1367.6,272.3 1370.9,279.1 1374.1,286.1 1377.4,293.3 1380.7,300.7 1384,308.3 1387.3,316 1390.5,323.9 1393.8,331.9 1397.1,340 1400.4,348.2 1403.6,356.6 1406.9,365 1410.2,373.5 1413.5,382.1 1416.8,390.7 1420,399.3 1423.3,408 1426.6,416.7 1429.9,425.3 1433.1,434 1436.4,442.6 1439.7,451.1 1443,459.6 1446.2,468 1449.5,476.4 1452.8,484.6 1456.1,492.7 1459.4,500.7 1462.6,508.5 1465.9,516.2 1469.2,523.7 1472.5,531.1 1475.7,538.2 1479,545.2 1482.3,551.9 1485.6,558.4 1488.9,564.7 1492.1,570.7 1495.4,576.5 1498.7,582 1502,587.2 1505.2,592.2 1508.5,596.8 1511.8,601.2 1515.1,605.2 1518.3,609 1521.6,612.4 1524.9,615.5 1528.2,618.3 1531.5,620.7 1534.7,622.8 1538,624.6 1541.3,626 1544.6,627.1 1547.8,627.8 1551.1,628.2 1554.4,628.2 1557.7,627.9 1561,627.3 1564.2,626.3 1567.5,625 1570.8,623.3 1574.1,621.3 1577.3,619 1580.6,616.4 1583.9,613.4 1587.2,610.2 1590.4,606.7 1593.7,602.8 1597,598.7 1600.3,594.4 1603.6,589.8 1606.8,584.9 1610.1,579.8 1613.4,574.5 1616.7,569 1619.9,563.3 1623.2,557.4 1626.5,551.4 1629.8,545.2 1633,538.9 1636.3,532.5 1639.6,526 1642.9,519.4 1646.2,512.7 1649.4,506 1652.7,499.3 1656,492.6 1659.3,485.8 1662.5,479.2 1665.8,472.5 1669.1,466 1672.4,459.5 1675.7,453.1 1678.9,446.8 1682.2,440.7 1685.5,434.7 1688.8,429 1692,423.4 1695.3,418 1698.6,412.8 1701.9,407.9 1705.1,403.2 1708.4,398.8 1711.7,394.7 1715,390.9 1718.3,387.3 1721.5,384.1 1724.8,381.3 1728.1,378.8 1731.4,376.6 1734.6,374.8 1737.9,373.3 1741.2,372.3 1744.5,371.6 1747.8,371.3 1751,371.4 1754.3,371.9 1757.6,372.8 1760.9,374 1764.1,375.7 1767.4,377.8 1770.7,380.3 1774,383.1 1777.2,386.4 1780.5,390 1783.8,394 1787.1,398.4 1790.4,403.2 1793.6,408.3 1796.9,413.7 1800.2,419.6 1803.5,425.7 1806.7,432.2 1810,438.9 1813.3,446 1816.6,453.4 1819.8,461 1823.1,468.9 1826.4,477.1 1829.7,485.5 1833,494.1 1836.2,502.9 1839.5,511.9 1842.8,521.1 1846.1,530.5 1849.3,540 1852.6,549.6 1855.9,559.4 1859.2,569.2 1862.5,579.1 1865.7,589.2 1869,599.2 1872.3,609.3 1875.6,619.5 1878.8,629.6 1882.1,639.8 1885.4,649.9 1888.7,660 1891.9,670.1 1895.2,680.1 1898.5,690.1 1901.8,700 1905.1,709.8 1908.3,719.5 1911.6,729.1 1914.9,738.6 1918.2,748 1921.4,757.2 1924.7,766.3 1928,775.2 1931.3,784 1934.6,792.7 1937.8,801.1 1941.1,809.4 1944.4,817.6 1947.7,825.5 1950.9,833.3 1954.2,840.8 1957.5,848.2 1960.8,855.4 1964,862.4 1967.3,869.2 1970.6,875.9 1973.9,882.3 1977.2,888.5 1980.4,894.5 1983.7,900.4 1987,906 1990.3,911.5 1993.5,916.8 1996.8,921.8 2000.1,926.7 2003.4,931.5 2006.6,936 2009.9,940.4 2013.2,944.6 2016.5,948.6 2019.8,952.4 2023,956.1 2026.3,959.7 2029.6,963.1 2032.9,966.3 2036.1,969.4 2039.4,972.3 2042.7,975.1 2046,977.8 2049.3,980.4 2052.5,982.8 2055.8,985.1 2059.1,987.3 2062.4,989.4 2065.6,991.3 2068.9,993.2 2072.2,994.9 2075.5,996.6 2078.7,998.2 2082,999.7 2085.3,1001.1 2088.6,1002.4 2091.9,1003.7 2095.1,1004.8 2098.4,1005.9 2101.7,1007 2105,1007.9 2108.2,1008.9 2111.5,1009.7 2114.8,1010.5 2118.1,1011.3 2121.4,1012 2124.6,1012.6 2127.9,1013.2 2131.2,1013.8 2134.5,1014.4 2137.7,1014.9 2141,1015.3 2144.3,1015.8 2147.6,1016.2 2150.8,1016.5 2154.1,1016.9 2157.4,1017.2 2160.7,1017.5 2164,1017.8 2167.2,1018 2170.5,1018.3 2173.8,1018.5 2177.1,1018.7 2180.3,1018.9 2183.6,1019 2186.9,1019.2 2190.2,1019.4 2193.4,1019.5 2196.7,1019.6 2200,1019.7 2203.3,1019.8 2206.6,1019.9 2209.8,1020 2213.1,1020.1 2216.4,1020.2 2219.7,1020.2 2222.9,1020.3 2226.2,1020.4 2229.5,1020.4 2232.8,1020.5 2236.1,1020.5 2239.3,1020.5 2242.6,1020.6 2245.9,1020.6 2249.2,1020.6 2252.4,1020.7 2255.7,1020.7 2259,1020.7 2262.3,1020.7 2265.5,1020.7 2268.8,1020.8 2272.1,1020.8 2275.4,1020.8 2278.7,1020.8 2281.9,1020.8 2285.2,1020.8 2288.5,1020.8 2291.8,1020.8 2295,1020.8 2298.3,1020.8" stroke="#ff0000" stroke-width="9.4" fill="none" stroke-linejoin="round" stroke-linecap="round"/>
<rect x="2025.5" y="86.5" width="245" height="276.5" fill="#fff" stroke="#2a2a2a" stroke-width="1.6"/>
<path d="M2032 116.7 H2118" stroke="#222" stroke-width="1.8"/>
<path d="M2061.1 171.8 h17.8 M2070 162.9 v17.8" stroke="#00ff00" stroke-width="1.5" fill="none"/>
<path d="M2061.1 225.4 h17.8 M2070 216.5 v17.8" stroke="#edb120" stroke-width="1.5" fill="none"/>
<path d="M2061.1 279 h17.8 M2070 270.1 v17.8" stroke="#7e2f8e" stroke-width="1.5" fill="none"/>
<path d="M2034 332.4 H2117" stroke="#ff0000" stroke-width="9.6" stroke-linecap="round"/>
<g font-size="45">
<text x="2134.5" y="137">H</text>
<text x="2134.5" y="189.6">Gauss1</text>
<text x="2134.5" y="244">Gauss2</text>
<text x="2134.5" y="297.4">Gauss3</text>
<text x="2134.5" y="351">GMM</text>
</g>
</svg></body></html>
